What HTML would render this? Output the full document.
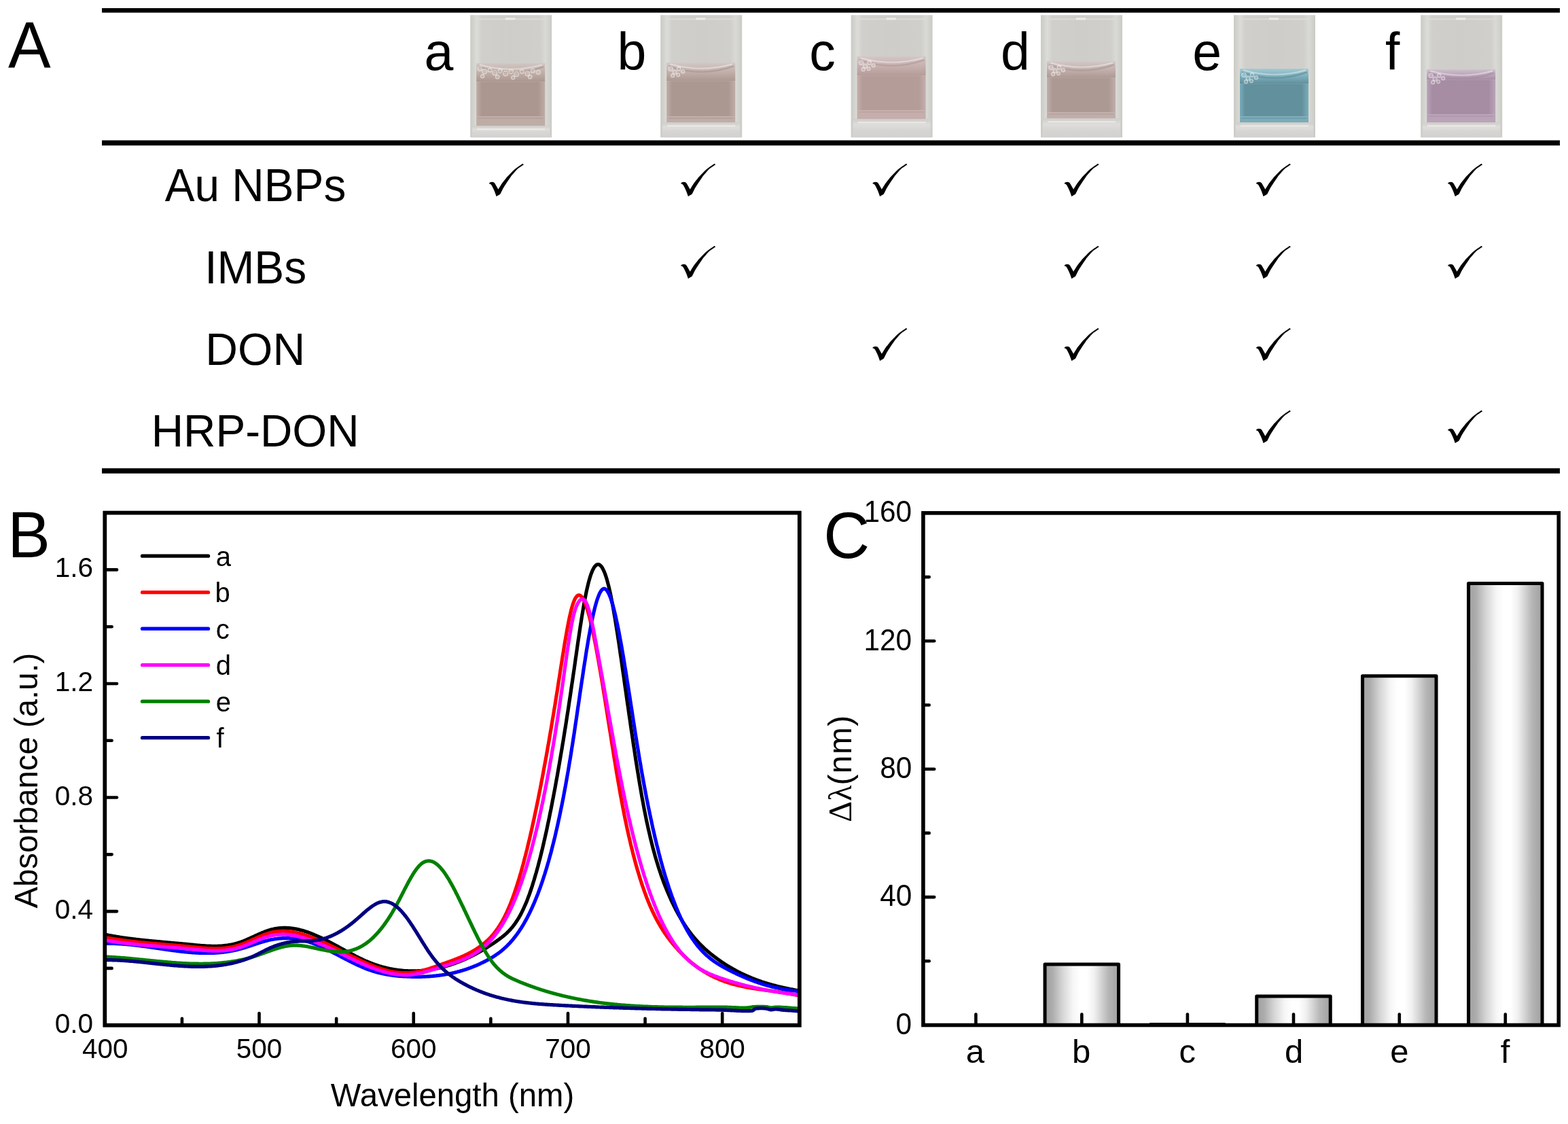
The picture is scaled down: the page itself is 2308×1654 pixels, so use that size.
<!DOCTYPE html>
<html><head><meta charset="utf-8"><title>Figure</title>
<style>html,body{margin:0;padding:0;background:#fff;overflow:hidden;}svg{display:block;}</style></head>
<body>
<svg width="2308" height="1654" viewBox="0 0 2308 1654"><defs><linearGradient id="glass" x1="0" y1="0" x2="1" y2="0">
<stop offset="0" stop-color="#cbcbc6"/><stop offset="0.04" stop-color="#d2d2ce"/><stop offset="0.08" stop-color="#dcdcd8"/><stop offset="0.14" stop-color="#d0cfcb"/><stop offset="0.5" stop-color="#cfcdc9"/><stop offset="0.86" stop-color="#d0cfcb"/><stop offset="0.92" stop-color="#d9d9d5"/><stop offset="0.97" stop-color="#d0d0cc"/><stop offset="1" stop-color="#cbcbc6"/></linearGradient><linearGradient id="basegr" x1="0" y1="0" x2="0" y2="1">
<stop offset="0" stop-color="#cfcdca"/><stop offset="0.3" stop-color="#dedddb"/><stop offset="0.6" stop-color="#d6d5d3"/><stop offset="1" stop-color="#d2d1cf"/></linearGradient><linearGradient id="lq0" x1="0" y1="0" x2="1" y2="0">
<stop offset="0" stop-color="#bfaca6"/><stop offset="0.08" stop-color="#ab978f"/><stop offset="0.9" stop-color="#ab978f"/><stop offset="1" stop-color="#bfaca6"/></linearGradient><linearGradient id="mn0" x1="0" y1="0" x2="0" y2="1">
<stop offset="0" stop-color="#d0c6c2"/><stop offset="0.55" stop-color="#bfaca6"/><stop offset="1" stop-color="#ab978f"/></linearGradient><linearGradient id="lq1" x1="0" y1="0" x2="1" y2="0">
<stop offset="0" stop-color="#c0ada8"/><stop offset="0.08" stop-color="#ab9891"/><stop offset="0.9" stop-color="#ab9891"/><stop offset="1" stop-color="#c0ada8"/></linearGradient><linearGradient id="mn1" x1="0" y1="0" x2="0" y2="1">
<stop offset="0" stop-color="#d2c8c5"/><stop offset="0.55" stop-color="#c0ada8"/><stop offset="1" stop-color="#ab9891"/></linearGradient><linearGradient id="lq2" x1="0" y1="0" x2="1" y2="0">
<stop offset="0" stop-color="#c5aeac"/><stop offset="0.08" stop-color="#b49c99"/><stop offset="0.9" stop-color="#b49c99"/><stop offset="1" stop-color="#c5aeac"/></linearGradient><linearGradient id="mn2" x1="0" y1="0" x2="0" y2="1">
<stop offset="0" stop-color="#d3c6c5"/><stop offset="0.55" stop-color="#c5aeac"/><stop offset="1" stop-color="#b49c99"/></linearGradient><linearGradient id="lq3" x1="0" y1="0" x2="1" y2="0">
<stop offset="0" stop-color="#c1aeab"/><stop offset="0.08" stop-color="#ad9994"/><stop offset="0.9" stop-color="#ad9994"/><stop offset="1" stop-color="#c1aeab"/></linearGradient><linearGradient id="mn3" x1="0" y1="0" x2="0" y2="1">
<stop offset="0" stop-color="#d2c8c6"/><stop offset="0.55" stop-color="#c1aeab"/><stop offset="1" stop-color="#ad9994"/></linearGradient><linearGradient id="lq4" x1="0" y1="0" x2="1" y2="0">
<stop offset="0" stop-color="#7aacba"/><stop offset="0.08" stop-color="#62909c"/><stop offset="0.9" stop-color="#62909c"/><stop offset="1" stop-color="#7aacba"/></linearGradient><linearGradient id="mn4" x1="0" y1="0" x2="0" y2="1">
<stop offset="0" stop-color="#a2cad4"/><stop offset="0.55" stop-color="#7aacba"/><stop offset="1" stop-color="#62909c"/></linearGradient><linearGradient id="lq5" x1="0" y1="0" x2="1" y2="0">
<stop offset="0" stop-color="#baa3b8"/><stop offset="0.08" stop-color="#a68da3"/><stop offset="0.9" stop-color="#a68da3"/><stop offset="1" stop-color="#baa3b8"/></linearGradient><linearGradient id="mn5" x1="0" y1="0" x2="0" y2="1">
<stop offset="0" stop-color="#cdc0cc"/><stop offset="0.55" stop-color="#baa3b8"/><stop offset="1" stop-color="#a68da3"/></linearGradient><linearGradient id="bar" x1="0" y1="0" x2="1" y2="0">
<stop offset="0" stop-color="#a0a0a0"/><stop offset="0.10" stop-color="#acacac"/><stop offset="0.24" stop-color="#d6d6d6"/><stop offset="0.38" stop-color="#f6f6f6"/><stop offset="0.48" stop-color="#ffffff"/><stop offset="0.57" stop-color="#ffffff"/><stop offset="0.67" stop-color="#f0f0f0"/><stop offset="0.75" stop-color="#d8d8d8"/><stop offset="0.86" stop-color="#b6b6b6"/><stop offset="1" stop-color="#a0a0a0"/></linearGradient></defs><rect width="2308" height="1654" fill="#fff"/><rect x="150" y="12.00" width="2146" height="6.6" fill="#000"/>
<rect x="150" y="206.50" width="2146" height="7.6" fill="#000"/>
<rect x="150" y="689.10" width="2146" height="7.6" fill="#000"/>
<text transform="translate(12.00,98.90) scale(1,1.0300)" font-family="Liberation Sans" font-size="94.00" >A</text>
<text transform="translate(242.70,295.90) scale(1,1.0300)" font-family="Liberation Sans" font-size="65.70" >Au NBPs</text>
<text transform="translate(301.17,417.10) scale(1,1.0300)" font-family="Liberation Sans" font-size="65.90" >IMBs</text>
<text transform="translate(302.31,536.70) scale(1,1.0100)" font-family="Liberation Sans" font-size="66.10" >DON</text>
<text transform="translate(222.65,656.80) scale(1,1.0200)" font-family="Liberation Sans" font-size="65.60" >HRP-DON</text>
<text x="624.40" y="102.60" font-family="Liberation Sans" font-size="77.00" >a</text>
<text x="908.57" y="102.60" font-family="Liberation Sans" font-size="77.00" >b</text>
<text x="1191.37" y="102.60" font-family="Liberation Sans" font-size="77.00" >c</text>
<text x="1473.00" y="102.60" font-family="Liberation Sans" font-size="77.00" >d</text>
<text x="1755.33" y="102.60" font-family="Liberation Sans" font-size="77.00" >e</text>
<text x="2039.03" y="102.60" font-family="Liberation Sans" font-size="77.00" >f</text>
<g transform="translate(692.2,22.2)">
<rect x="0" y="0" width="120" height="180" fill="url(#glass)"/>
<rect x="10" y="5" width="100" height="2" fill="#dcdcd8" opacity="0.9"/>
<rect x="52" y="4" width="14" height="3" fill="#ecedea"/>
<rect x="9" y="71" width="101" height="27" fill="url(#mn0)"/>
<rect x="9" y="98" width="101" height="51" fill="url(#lq0)"/>
<rect x="9" y="149" width="101" height="14" fill="#bfaca6"/>
<rect x="12" y="151" width="95" height="1.5" fill="#ab978f" opacity="0.6"/>
<path d="M12,76 Q60,93 108,76" fill="none" stroke="#ab978f" stroke-width="2.5" opacity="0.7"/>
<path d="M14,73 Q60,86 106,73" fill="none" stroke="#ffffff" stroke-width="2" opacity="0.4"/>
<circle cx="14" cy="79" r="3.2" fill="#ffffff" fill-opacity="0.18" stroke="#ffffff" stroke-width="1.1" stroke-opacity="0.5"/>
<circle cx="21" cy="83" r="3.6" fill="#ffffff" fill-opacity="0.18" stroke="#ffffff" stroke-width="1.1" stroke-opacity="0.5"/>
<circle cx="29" cy="81" r="3.0" fill="#ffffff" fill-opacity="0.18" stroke="#ffffff" stroke-width="1.1" stroke-opacity="0.5"/>
<circle cx="36" cy="85" r="3.4" fill="#ffffff" fill-opacity="0.18" stroke="#ffffff" stroke-width="1.1" stroke-opacity="0.5"/>
<circle cx="44" cy="82" r="3.0" fill="#ffffff" fill-opacity="0.18" stroke="#ffffff" stroke-width="1.1" stroke-opacity="0.5"/>
<circle cx="52" cy="86" r="3.6" fill="#ffffff" fill-opacity="0.18" stroke="#ffffff" stroke-width="1.1" stroke-opacity="0.5"/>
<circle cx="60" cy="83" r="3.2" fill="#ffffff" fill-opacity="0.18" stroke="#ffffff" stroke-width="1.1" stroke-opacity="0.5"/>
<circle cx="68" cy="87" r="3.4" fill="#ffffff" fill-opacity="0.18" stroke="#ffffff" stroke-width="1.1" stroke-opacity="0.5"/>
<circle cx="76" cy="83" r="3.0" fill="#ffffff" fill-opacity="0.18" stroke="#ffffff" stroke-width="1.1" stroke-opacity="0.5"/>
<circle cx="84" cy="86" r="3.4" fill="#ffffff" fill-opacity="0.18" stroke="#ffffff" stroke-width="1.1" stroke-opacity="0.5"/>
<circle cx="92" cy="82" r="3.0" fill="#ffffff" fill-opacity="0.18" stroke="#ffffff" stroke-width="1.1" stroke-opacity="0.5"/>
<circle cx="100" cy="84" r="3.2" fill="#ffffff" fill-opacity="0.18" stroke="#ffffff" stroke-width="1.1" stroke-opacity="0.5"/>
<circle cx="18" cy="90" r="2.6" fill="#ffffff" fill-opacity="0.18" stroke="#ffffff" stroke-width="1.1" stroke-opacity="0.5"/>
<circle cx="40" cy="91" r="2.8" fill="#ffffff" fill-opacity="0.18" stroke="#ffffff" stroke-width="1.1" stroke-opacity="0.5"/>
<circle cx="63" cy="92" r="2.6" fill="#ffffff" fill-opacity="0.18" stroke="#ffffff" stroke-width="1.1" stroke-opacity="0.5"/>
<circle cx="88" cy="91" r="2.8" fill="#ffffff" fill-opacity="0.18" stroke="#ffffff" stroke-width="1.1" stroke-opacity="0.5"/>
<rect x="3" y="163" width="114" height="17" fill="url(#basegr)"/>
<rect x="10" y="167" width="100" height="2" fill="#ecebe9" opacity="0.9"/>
</g>
<g transform="translate(972.2,22.2)">
<rect x="0" y="0" width="120" height="180" fill="url(#glass)"/>
<rect x="10" y="5" width="100" height="2" fill="#dcdcd8" opacity="0.9"/>
<rect x="52" y="4" width="14" height="3" fill="#ecedea"/>
<rect x="9" y="70" width="101" height="27" fill="url(#mn1)"/>
<rect x="9" y="97" width="101" height="52" fill="url(#lq1)"/>
<rect x="9" y="149" width="101" height="9" fill="#c0ada8"/>
<rect x="12" y="151" width="95" height="1.5" fill="#ab9891" opacity="0.6"/>
<path d="M12,75 Q60,92 108,75" fill="none" stroke="#ab9891" stroke-width="2.5" opacity="0.7"/>
<path d="M14,72 Q60,85 106,72" fill="none" stroke="#ffffff" stroke-width="2" opacity="0.4"/>
<circle cx="15" cy="79" r="3.2" fill="#ffffff" fill-opacity="0.18" stroke="#ffffff" stroke-width="1.1" stroke-opacity="0.5"/>
<circle cx="21" cy="84" r="3.0" fill="#ffffff" fill-opacity="0.18" stroke="#ffffff" stroke-width="1.1" stroke-opacity="0.5"/>
<circle cx="27" cy="79" r="2.8" fill="#ffffff" fill-opacity="0.18" stroke="#ffffff" stroke-width="1.1" stroke-opacity="0.5"/>
<circle cx="18" cy="89" r="2.6" fill="#ffffff" fill-opacity="0.18" stroke="#ffffff" stroke-width="1.1" stroke-opacity="0.5"/>
<circle cx="26" cy="88" r="2.4" fill="#ffffff" fill-opacity="0.18" stroke="#ffffff" stroke-width="1.1" stroke-opacity="0.5"/>
<circle cx="33" cy="83" r="2.6" fill="#ffffff" fill-opacity="0.18" stroke="#ffffff" stroke-width="1.1" stroke-opacity="0.5"/>
<rect x="3" y="158" width="114" height="22" fill="url(#basegr)"/>
<rect x="10" y="162" width="100" height="2" fill="#ecebe9" opacity="0.9"/>
</g>
<g transform="translate(1252.6,22.2)">
<rect x="0" y="0" width="120" height="180" fill="url(#glass)"/>
<rect x="10" y="5" width="100" height="2" fill="#dcdcd8" opacity="0.9"/>
<rect x="52" y="4" width="14" height="3" fill="#ecedea"/>
<rect x="9" y="61" width="101" height="28" fill="url(#mn2)"/>
<rect x="9" y="89" width="101" height="51" fill="url(#lq2)"/>
<rect x="9" y="140" width="101" height="13" fill="#c5aeac"/>
<rect x="12" y="142" width="95" height="1.5" fill="#b49c99" opacity="0.6"/>
<path d="M12,66 Q60,83 108,66" fill="none" stroke="#b49c99" stroke-width="2.5" opacity="0.7"/>
<path d="M14,63 Q60,76 106,63" fill="none" stroke="#ffffff" stroke-width="2" opacity="0.4"/>
<circle cx="15" cy="70" r="3.2" fill="#ffffff" fill-opacity="0.18" stroke="#ffffff" stroke-width="1.1" stroke-opacity="0.5"/>
<circle cx="21" cy="75" r="3.0" fill="#ffffff" fill-opacity="0.18" stroke="#ffffff" stroke-width="1.1" stroke-opacity="0.5"/>
<circle cx="27" cy="70" r="2.8" fill="#ffffff" fill-opacity="0.18" stroke="#ffffff" stroke-width="1.1" stroke-opacity="0.5"/>
<circle cx="18" cy="80" r="2.6" fill="#ffffff" fill-opacity="0.18" stroke="#ffffff" stroke-width="1.1" stroke-opacity="0.5"/>
<circle cx="26" cy="79" r="2.4" fill="#ffffff" fill-opacity="0.18" stroke="#ffffff" stroke-width="1.1" stroke-opacity="0.5"/>
<circle cx="33" cy="74" r="2.6" fill="#ffffff" fill-opacity="0.18" stroke="#ffffff" stroke-width="1.1" stroke-opacity="0.5"/>
<rect x="3" y="153" width="114" height="27" fill="url(#basegr)"/>
<rect x="10" y="157" width="100" height="2" fill="#ecebe9" opacity="0.9"/>
</g>
<g transform="translate(1532.0,22.2)">
<rect x="0" y="0" width="120" height="180" fill="url(#glass)"/>
<rect x="10" y="5" width="100" height="2" fill="#dcdcd8" opacity="0.9"/>
<rect x="52" y="4" width="14" height="3" fill="#ecedea"/>
<rect x="9" y="68" width="101" height="24" fill="url(#mn3)"/>
<rect x="9" y="92" width="101" height="51" fill="url(#lq3)"/>
<rect x="9" y="143" width="101" height="9" fill="#c1aeab"/>
<rect x="12" y="145" width="95" height="1.5" fill="#ad9994" opacity="0.6"/>
<path d="M12,73 Q60,90 108,73" fill="none" stroke="#ad9994" stroke-width="2.5" opacity="0.7"/>
<path d="M14,70 Q60,83 106,70" fill="none" stroke="#ffffff" stroke-width="2" opacity="0.4"/>
<circle cx="15" cy="77" r="3.2" fill="#ffffff" fill-opacity="0.18" stroke="#ffffff" stroke-width="1.1" stroke-opacity="0.5"/>
<circle cx="21" cy="82" r="3.0" fill="#ffffff" fill-opacity="0.18" stroke="#ffffff" stroke-width="1.1" stroke-opacity="0.5"/>
<circle cx="27" cy="77" r="2.8" fill="#ffffff" fill-opacity="0.18" stroke="#ffffff" stroke-width="1.1" stroke-opacity="0.5"/>
<circle cx="18" cy="87" r="2.6" fill="#ffffff" fill-opacity="0.18" stroke="#ffffff" stroke-width="1.1" stroke-opacity="0.5"/>
<circle cx="26" cy="86" r="2.4" fill="#ffffff" fill-opacity="0.18" stroke="#ffffff" stroke-width="1.1" stroke-opacity="0.5"/>
<circle cx="33" cy="81" r="2.6" fill="#ffffff" fill-opacity="0.18" stroke="#ffffff" stroke-width="1.1" stroke-opacity="0.5"/>
<rect x="3" y="152" width="114" height="28" fill="url(#basegr)"/>
<rect x="10" y="156" width="100" height="2" fill="#ecebe9" opacity="0.9"/>
</g>
<g transform="translate(1816.0,22.2)">
<rect x="0" y="0" width="120" height="180" fill="url(#glass)"/>
<rect x="10" y="5" width="100" height="2" fill="#dcdcd8" opacity="0.9"/>
<rect x="52" y="4" width="14" height="3" fill="#ecedea"/>
<rect x="9" y="79" width="101" height="22" fill="url(#mn4)"/>
<rect x="9" y="101" width="101" height="48" fill="url(#lq4)"/>
<rect x="9" y="149" width="101" height="9" fill="#7aacba"/>
<rect x="12" y="151" width="95" height="1.5" fill="#62909c" opacity="0.6"/>
<path d="M12,84 Q60,101 108,84" fill="none" stroke="#62909c" stroke-width="2.5" opacity="0.7"/>
<path d="M14,81 Q60,94 106,81" fill="none" stroke="#ffffff" stroke-width="2" opacity="0.4"/>
<circle cx="15" cy="88" r="3.2" fill="#ffffff" fill-opacity="0.18" stroke="#ffffff" stroke-width="1.1" stroke-opacity="0.5"/>
<circle cx="21" cy="93" r="3.0" fill="#ffffff" fill-opacity="0.18" stroke="#ffffff" stroke-width="1.1" stroke-opacity="0.5"/>
<circle cx="27" cy="88" r="2.8" fill="#ffffff" fill-opacity="0.18" stroke="#ffffff" stroke-width="1.1" stroke-opacity="0.5"/>
<circle cx="18" cy="98" r="2.6" fill="#ffffff" fill-opacity="0.18" stroke="#ffffff" stroke-width="1.1" stroke-opacity="0.5"/>
<circle cx="26" cy="97" r="2.4" fill="#ffffff" fill-opacity="0.18" stroke="#ffffff" stroke-width="1.1" stroke-opacity="0.5"/>
<circle cx="33" cy="92" r="2.6" fill="#ffffff" fill-opacity="0.18" stroke="#ffffff" stroke-width="1.1" stroke-opacity="0.5"/>
<rect x="3" y="158" width="114" height="22" fill="url(#basegr)"/>
<rect x="10" y="162" width="100" height="2" fill="#ecebe9" opacity="0.9"/>
</g>
<g transform="translate(2091.2,22.2)">
<rect x="0" y="0" width="120" height="180" fill="url(#glass)"/>
<rect x="10" y="5" width="100" height="2" fill="#dcdcd8" opacity="0.9"/>
<rect x="52" y="4" width="14" height="3" fill="#ecedea"/>
<rect x="9" y="80" width="101" height="15" fill="url(#mn5)"/>
<rect x="9" y="95" width="101" height="51" fill="url(#lq5)"/>
<rect x="9" y="146" width="101" height="12" fill="#baa3b8"/>
<rect x="12" y="148" width="95" height="1.5" fill="#a68da3" opacity="0.6"/>
<path d="M12,85 Q60,102 108,85" fill="none" stroke="#a68da3" stroke-width="2.5" opacity="0.7"/>
<path d="M14,82 Q60,95 106,82" fill="none" stroke="#ffffff" stroke-width="2" opacity="0.4"/>
<circle cx="15" cy="89" r="3.2" fill="#ffffff" fill-opacity="0.18" stroke="#ffffff" stroke-width="1.1" stroke-opacity="0.5"/>
<circle cx="21" cy="94" r="3.0" fill="#ffffff" fill-opacity="0.18" stroke="#ffffff" stroke-width="1.1" stroke-opacity="0.5"/>
<circle cx="27" cy="89" r="2.8" fill="#ffffff" fill-opacity="0.18" stroke="#ffffff" stroke-width="1.1" stroke-opacity="0.5"/>
<circle cx="18" cy="99" r="2.6" fill="#ffffff" fill-opacity="0.18" stroke="#ffffff" stroke-width="1.1" stroke-opacity="0.5"/>
<circle cx="26" cy="98" r="2.4" fill="#ffffff" fill-opacity="0.18" stroke="#ffffff" stroke-width="1.1" stroke-opacity="0.5"/>
<circle cx="33" cy="93" r="2.6" fill="#ffffff" fill-opacity="0.18" stroke="#ffffff" stroke-width="1.1" stroke-opacity="0.5"/>
<rect x="3" y="158" width="114" height="22" fill="url(#basegr)"/>
<rect x="10" y="162" width="100" height="2" fill="#ecebe9" opacity="0.9"/>
</g>
<path transform="translate(719.6,240.8)" d="M13.79,37.89 C14.69,36.45 17.56,31.64 19.18,29.27 C20.80,26.90 22.19,25.32 23.48,23.67 C24.77,22.02 25.49,20.94 26.93,19.36 C28.37,17.78 30.38,15.91 32.10,14.19 C33.82,12.47 35.48,10.60 37.27,9.02 C39.07,7.44 41.15,5.97 42.87,4.71 C44.59,3.45 46.46,2.27 47.61,1.48 C48.76,0.69 49.41,0.22 49.77,-0.03 L51.27,1.48 C50.66,1.88 49.01,2.88 47.61,3.85 C46.21,4.82 44.74,5.58 42.87,7.30 C41.00,9.02 38.20,12.18 36.41,14.19 C34.61,16.20 33.90,16.92 32.10,19.36 C30.31,21.80 27.44,26.11 25.64,28.84 C23.84,31.57 22.70,33.29 21.33,35.73 C19.96,38.17 18.31,41.91 17.45,43.49 C16.59,45.07 17.24,44.42 16.16,45.21 C15.08,46.00 11.85,47.73 10.99,48.23 C10.56,47.01 9.33,43.20 8.40,40.90 C7.47,38.60 6.32,36.16 5.39,34.44 C4.46,32.72 3.70,31.42 2.80,30.56 C1.90,29.70 0.47,29.48 0.00,29.27 C0.32,28.98 1.19,27.95 1.94,27.55 C2.69,27.16 3.67,26.90 4.53,26.90 C5.39,26.90 6.39,27.16 7.11,27.55 C7.83,27.95 8.27,28.48 8.84,29.27 C9.41,30.06 9.99,31.28 10.56,32.28 C11.13,33.29 11.74,34.36 12.28,35.30 C12.82,36.23 13.54,37.46 13.79,37.89 Z" fill="#000"/>
<path transform="translate(1001.9,240.8)" d="M13.79,37.89 C14.69,36.45 17.56,31.64 19.18,29.27 C20.80,26.90 22.19,25.32 23.48,23.67 C24.77,22.02 25.49,20.94 26.93,19.36 C28.37,17.78 30.38,15.91 32.10,14.19 C33.82,12.47 35.48,10.60 37.27,9.02 C39.07,7.44 41.15,5.97 42.87,4.71 C44.59,3.45 46.46,2.27 47.61,1.48 C48.76,0.69 49.41,0.22 49.77,-0.03 L51.27,1.48 C50.66,1.88 49.01,2.88 47.61,3.85 C46.21,4.82 44.74,5.58 42.87,7.30 C41.00,9.02 38.20,12.18 36.41,14.19 C34.61,16.20 33.90,16.92 32.10,19.36 C30.31,21.80 27.44,26.11 25.64,28.84 C23.84,31.57 22.70,33.29 21.33,35.73 C19.96,38.17 18.31,41.91 17.45,43.49 C16.59,45.07 17.24,44.42 16.16,45.21 C15.08,46.00 11.85,47.73 10.99,48.23 C10.56,47.01 9.33,43.20 8.40,40.90 C7.47,38.60 6.32,36.16 5.39,34.44 C4.46,32.72 3.70,31.42 2.80,30.56 C1.90,29.70 0.47,29.48 0.00,29.27 C0.32,28.98 1.19,27.95 1.94,27.55 C2.69,27.16 3.67,26.90 4.53,26.90 C5.39,26.90 6.39,27.16 7.11,27.55 C7.83,27.95 8.27,28.48 8.84,29.27 C9.41,30.06 9.99,31.28 10.56,32.28 C11.13,33.29 11.74,34.36 12.28,35.30 C12.82,36.23 13.54,37.46 13.79,37.89 Z" fill="#000"/>
<path transform="translate(1284.1,240.8)" d="M13.79,37.89 C14.69,36.45 17.56,31.64 19.18,29.27 C20.80,26.90 22.19,25.32 23.48,23.67 C24.77,22.02 25.49,20.94 26.93,19.36 C28.37,17.78 30.38,15.91 32.10,14.19 C33.82,12.47 35.48,10.60 37.27,9.02 C39.07,7.44 41.15,5.97 42.87,4.71 C44.59,3.45 46.46,2.27 47.61,1.48 C48.76,0.69 49.41,0.22 49.77,-0.03 L51.27,1.48 C50.66,1.88 49.01,2.88 47.61,3.85 C46.21,4.82 44.74,5.58 42.87,7.30 C41.00,9.02 38.20,12.18 36.41,14.19 C34.61,16.20 33.90,16.92 32.10,19.36 C30.31,21.80 27.44,26.11 25.64,28.84 C23.84,31.57 22.70,33.29 21.33,35.73 C19.96,38.17 18.31,41.91 17.45,43.49 C16.59,45.07 17.24,44.42 16.16,45.21 C15.08,46.00 11.85,47.73 10.99,48.23 C10.56,47.01 9.33,43.20 8.40,40.90 C7.47,38.60 6.32,36.16 5.39,34.44 C4.46,32.72 3.70,31.42 2.80,30.56 C1.90,29.70 0.47,29.48 0.00,29.27 C0.32,28.98 1.19,27.95 1.94,27.55 C2.69,27.16 3.67,26.90 4.53,26.90 C5.39,26.90 6.39,27.16 7.11,27.55 C7.83,27.95 8.27,28.48 8.84,29.27 C9.41,30.06 9.99,31.28 10.56,32.28 C11.13,33.29 11.74,34.36 12.28,35.30 C12.82,36.23 13.54,37.46 13.79,37.89 Z" fill="#000"/>
<path transform="translate(1566.3,240.8)" d="M13.79,37.89 C14.69,36.45 17.56,31.64 19.18,29.27 C20.80,26.90 22.19,25.32 23.48,23.67 C24.77,22.02 25.49,20.94 26.93,19.36 C28.37,17.78 30.38,15.91 32.10,14.19 C33.82,12.47 35.48,10.60 37.27,9.02 C39.07,7.44 41.15,5.97 42.87,4.71 C44.59,3.45 46.46,2.27 47.61,1.48 C48.76,0.69 49.41,0.22 49.77,-0.03 L51.27,1.48 C50.66,1.88 49.01,2.88 47.61,3.85 C46.21,4.82 44.74,5.58 42.87,7.30 C41.00,9.02 38.20,12.18 36.41,14.19 C34.61,16.20 33.90,16.92 32.10,19.36 C30.31,21.80 27.44,26.11 25.64,28.84 C23.84,31.57 22.70,33.29 21.33,35.73 C19.96,38.17 18.31,41.91 17.45,43.49 C16.59,45.07 17.24,44.42 16.16,45.21 C15.08,46.00 11.85,47.73 10.99,48.23 C10.56,47.01 9.33,43.20 8.40,40.90 C7.47,38.60 6.32,36.16 5.39,34.44 C4.46,32.72 3.70,31.42 2.80,30.56 C1.90,29.70 0.47,29.48 0.00,29.27 C0.32,28.98 1.19,27.95 1.94,27.55 C2.69,27.16 3.67,26.90 4.53,26.90 C5.39,26.90 6.39,27.16 7.11,27.55 C7.83,27.95 8.27,28.48 8.84,29.27 C9.41,30.06 9.99,31.28 10.56,32.28 C11.13,33.29 11.74,34.36 12.28,35.30 C12.82,36.23 13.54,37.46 13.79,37.89 Z" fill="#000"/>
<path transform="translate(1848.6,240.8)" d="M13.79,37.89 C14.69,36.45 17.56,31.64 19.18,29.27 C20.80,26.90 22.19,25.32 23.48,23.67 C24.77,22.02 25.49,20.94 26.93,19.36 C28.37,17.78 30.38,15.91 32.10,14.19 C33.82,12.47 35.48,10.60 37.27,9.02 C39.07,7.44 41.15,5.97 42.87,4.71 C44.59,3.45 46.46,2.27 47.61,1.48 C48.76,0.69 49.41,0.22 49.77,-0.03 L51.27,1.48 C50.66,1.88 49.01,2.88 47.61,3.85 C46.21,4.82 44.74,5.58 42.87,7.30 C41.00,9.02 38.20,12.18 36.41,14.19 C34.61,16.20 33.90,16.92 32.10,19.36 C30.31,21.80 27.44,26.11 25.64,28.84 C23.84,31.57 22.70,33.29 21.33,35.73 C19.96,38.17 18.31,41.91 17.45,43.49 C16.59,45.07 17.24,44.42 16.16,45.21 C15.08,46.00 11.85,47.73 10.99,48.23 C10.56,47.01 9.33,43.20 8.40,40.90 C7.47,38.60 6.32,36.16 5.39,34.44 C4.46,32.72 3.70,31.42 2.80,30.56 C1.90,29.70 0.47,29.48 0.00,29.27 C0.32,28.98 1.19,27.95 1.94,27.55 C2.69,27.16 3.67,26.90 4.53,26.90 C5.39,26.90 6.39,27.16 7.11,27.55 C7.83,27.95 8.27,28.48 8.84,29.27 C9.41,30.06 9.99,31.28 10.56,32.28 C11.13,33.29 11.74,34.36 12.28,35.30 C12.82,36.23 13.54,37.46 13.79,37.89 Z" fill="#000"/>
<path transform="translate(2130.8,240.8)" d="M13.79,37.89 C14.69,36.45 17.56,31.64 19.18,29.27 C20.80,26.90 22.19,25.32 23.48,23.67 C24.77,22.02 25.49,20.94 26.93,19.36 C28.37,17.78 30.38,15.91 32.10,14.19 C33.82,12.47 35.48,10.60 37.27,9.02 C39.07,7.44 41.15,5.97 42.87,4.71 C44.59,3.45 46.46,2.27 47.61,1.48 C48.76,0.69 49.41,0.22 49.77,-0.03 L51.27,1.48 C50.66,1.88 49.01,2.88 47.61,3.85 C46.21,4.82 44.74,5.58 42.87,7.30 C41.00,9.02 38.20,12.18 36.41,14.19 C34.61,16.20 33.90,16.92 32.10,19.36 C30.31,21.80 27.44,26.11 25.64,28.84 C23.84,31.57 22.70,33.29 21.33,35.73 C19.96,38.17 18.31,41.91 17.45,43.49 C16.59,45.07 17.24,44.42 16.16,45.21 C15.08,46.00 11.85,47.73 10.99,48.23 C10.56,47.01 9.33,43.20 8.40,40.90 C7.47,38.60 6.32,36.16 5.39,34.44 C4.46,32.72 3.70,31.42 2.80,30.56 C1.90,29.70 0.47,29.48 0.00,29.27 C0.32,28.98 1.19,27.95 1.94,27.55 C2.69,27.16 3.67,26.90 4.53,26.90 C5.39,26.90 6.39,27.16 7.11,27.55 C7.83,27.95 8.27,28.48 8.84,29.27 C9.41,30.06 9.99,31.28 10.56,32.28 C11.13,33.29 11.74,34.36 12.28,35.30 C12.82,36.23 13.54,37.46 13.79,37.89 Z" fill="#000"/>
<path transform="translate(1001.9,361.8)" d="M13.79,37.89 C14.69,36.45 17.56,31.64 19.18,29.27 C20.80,26.90 22.19,25.32 23.48,23.67 C24.77,22.02 25.49,20.94 26.93,19.36 C28.37,17.78 30.38,15.91 32.10,14.19 C33.82,12.47 35.48,10.60 37.27,9.02 C39.07,7.44 41.15,5.97 42.87,4.71 C44.59,3.45 46.46,2.27 47.61,1.48 C48.76,0.69 49.41,0.22 49.77,-0.03 L51.27,1.48 C50.66,1.88 49.01,2.88 47.61,3.85 C46.21,4.82 44.74,5.58 42.87,7.30 C41.00,9.02 38.20,12.18 36.41,14.19 C34.61,16.20 33.90,16.92 32.10,19.36 C30.31,21.80 27.44,26.11 25.64,28.84 C23.84,31.57 22.70,33.29 21.33,35.73 C19.96,38.17 18.31,41.91 17.45,43.49 C16.59,45.07 17.24,44.42 16.16,45.21 C15.08,46.00 11.85,47.73 10.99,48.23 C10.56,47.01 9.33,43.20 8.40,40.90 C7.47,38.60 6.32,36.16 5.39,34.44 C4.46,32.72 3.70,31.42 2.80,30.56 C1.90,29.70 0.47,29.48 0.00,29.27 C0.32,28.98 1.19,27.95 1.94,27.55 C2.69,27.16 3.67,26.90 4.53,26.90 C5.39,26.90 6.39,27.16 7.11,27.55 C7.83,27.95 8.27,28.48 8.84,29.27 C9.41,30.06 9.99,31.28 10.56,32.28 C11.13,33.29 11.74,34.36 12.28,35.30 C12.82,36.23 13.54,37.46 13.79,37.89 Z" fill="#000"/>
<path transform="translate(1566.3,361.8)" d="M13.79,37.89 C14.69,36.45 17.56,31.64 19.18,29.27 C20.80,26.90 22.19,25.32 23.48,23.67 C24.77,22.02 25.49,20.94 26.93,19.36 C28.37,17.78 30.38,15.91 32.10,14.19 C33.82,12.47 35.48,10.60 37.27,9.02 C39.07,7.44 41.15,5.97 42.87,4.71 C44.59,3.45 46.46,2.27 47.61,1.48 C48.76,0.69 49.41,0.22 49.77,-0.03 L51.27,1.48 C50.66,1.88 49.01,2.88 47.61,3.85 C46.21,4.82 44.74,5.58 42.87,7.30 C41.00,9.02 38.20,12.18 36.41,14.19 C34.61,16.20 33.90,16.92 32.10,19.36 C30.31,21.80 27.44,26.11 25.64,28.84 C23.84,31.57 22.70,33.29 21.33,35.73 C19.96,38.17 18.31,41.91 17.45,43.49 C16.59,45.07 17.24,44.42 16.16,45.21 C15.08,46.00 11.85,47.73 10.99,48.23 C10.56,47.01 9.33,43.20 8.40,40.90 C7.47,38.60 6.32,36.16 5.39,34.44 C4.46,32.72 3.70,31.42 2.80,30.56 C1.90,29.70 0.47,29.48 0.00,29.27 C0.32,28.98 1.19,27.95 1.94,27.55 C2.69,27.16 3.67,26.90 4.53,26.90 C5.39,26.90 6.39,27.16 7.11,27.55 C7.83,27.95 8.27,28.48 8.84,29.27 C9.41,30.06 9.99,31.28 10.56,32.28 C11.13,33.29 11.74,34.36 12.28,35.30 C12.82,36.23 13.54,37.46 13.79,37.89 Z" fill="#000"/>
<path transform="translate(1848.6,361.8)" d="M13.79,37.89 C14.69,36.45 17.56,31.64 19.18,29.27 C20.80,26.90 22.19,25.32 23.48,23.67 C24.77,22.02 25.49,20.94 26.93,19.36 C28.37,17.78 30.38,15.91 32.10,14.19 C33.82,12.47 35.48,10.60 37.27,9.02 C39.07,7.44 41.15,5.97 42.87,4.71 C44.59,3.45 46.46,2.27 47.61,1.48 C48.76,0.69 49.41,0.22 49.77,-0.03 L51.27,1.48 C50.66,1.88 49.01,2.88 47.61,3.85 C46.21,4.82 44.74,5.58 42.87,7.30 C41.00,9.02 38.20,12.18 36.41,14.19 C34.61,16.20 33.90,16.92 32.10,19.36 C30.31,21.80 27.44,26.11 25.64,28.84 C23.84,31.57 22.70,33.29 21.33,35.73 C19.96,38.17 18.31,41.91 17.45,43.49 C16.59,45.07 17.24,44.42 16.16,45.21 C15.08,46.00 11.85,47.73 10.99,48.23 C10.56,47.01 9.33,43.20 8.40,40.90 C7.47,38.60 6.32,36.16 5.39,34.44 C4.46,32.72 3.70,31.42 2.80,30.56 C1.90,29.70 0.47,29.48 0.00,29.27 C0.32,28.98 1.19,27.95 1.94,27.55 C2.69,27.16 3.67,26.90 4.53,26.90 C5.39,26.90 6.39,27.16 7.11,27.55 C7.83,27.95 8.27,28.48 8.84,29.27 C9.41,30.06 9.99,31.28 10.56,32.28 C11.13,33.29 11.74,34.36 12.28,35.30 C12.82,36.23 13.54,37.46 13.79,37.89 Z" fill="#000"/>
<path transform="translate(2130.8,361.8)" d="M13.79,37.89 C14.69,36.45 17.56,31.64 19.18,29.27 C20.80,26.90 22.19,25.32 23.48,23.67 C24.77,22.02 25.49,20.94 26.93,19.36 C28.37,17.78 30.38,15.91 32.10,14.19 C33.82,12.47 35.48,10.60 37.27,9.02 C39.07,7.44 41.15,5.97 42.87,4.71 C44.59,3.45 46.46,2.27 47.61,1.48 C48.76,0.69 49.41,0.22 49.77,-0.03 L51.27,1.48 C50.66,1.88 49.01,2.88 47.61,3.85 C46.21,4.82 44.74,5.58 42.87,7.30 C41.00,9.02 38.20,12.18 36.41,14.19 C34.61,16.20 33.90,16.92 32.10,19.36 C30.31,21.80 27.44,26.11 25.64,28.84 C23.84,31.57 22.70,33.29 21.33,35.73 C19.96,38.17 18.31,41.91 17.45,43.49 C16.59,45.07 17.24,44.42 16.16,45.21 C15.08,46.00 11.85,47.73 10.99,48.23 C10.56,47.01 9.33,43.20 8.40,40.90 C7.47,38.60 6.32,36.16 5.39,34.44 C4.46,32.72 3.70,31.42 2.80,30.56 C1.90,29.70 0.47,29.48 0.00,29.27 C0.32,28.98 1.19,27.95 1.94,27.55 C2.69,27.16 3.67,26.90 4.53,26.90 C5.39,26.90 6.39,27.16 7.11,27.55 C7.83,27.95 8.27,28.48 8.84,29.27 C9.41,30.06 9.99,31.28 10.56,32.28 C11.13,33.29 11.74,34.36 12.28,35.30 C12.82,36.23 13.54,37.46 13.79,37.89 Z" fill="#000"/>
<path transform="translate(1284.1,482.8)" d="M13.79,37.89 C14.69,36.45 17.56,31.64 19.18,29.27 C20.80,26.90 22.19,25.32 23.48,23.67 C24.77,22.02 25.49,20.94 26.93,19.36 C28.37,17.78 30.38,15.91 32.10,14.19 C33.82,12.47 35.48,10.60 37.27,9.02 C39.07,7.44 41.15,5.97 42.87,4.71 C44.59,3.45 46.46,2.27 47.61,1.48 C48.76,0.69 49.41,0.22 49.77,-0.03 L51.27,1.48 C50.66,1.88 49.01,2.88 47.61,3.85 C46.21,4.82 44.74,5.58 42.87,7.30 C41.00,9.02 38.20,12.18 36.41,14.19 C34.61,16.20 33.90,16.92 32.10,19.36 C30.31,21.80 27.44,26.11 25.64,28.84 C23.84,31.57 22.70,33.29 21.33,35.73 C19.96,38.17 18.31,41.91 17.45,43.49 C16.59,45.07 17.24,44.42 16.16,45.21 C15.08,46.00 11.85,47.73 10.99,48.23 C10.56,47.01 9.33,43.20 8.40,40.90 C7.47,38.60 6.32,36.16 5.39,34.44 C4.46,32.72 3.70,31.42 2.80,30.56 C1.90,29.70 0.47,29.48 0.00,29.27 C0.32,28.98 1.19,27.95 1.94,27.55 C2.69,27.16 3.67,26.90 4.53,26.90 C5.39,26.90 6.39,27.16 7.11,27.55 C7.83,27.95 8.27,28.48 8.84,29.27 C9.41,30.06 9.99,31.28 10.56,32.28 C11.13,33.29 11.74,34.36 12.28,35.30 C12.82,36.23 13.54,37.46 13.79,37.89 Z" fill="#000"/>
<path transform="translate(1566.3,482.8)" d="M13.79,37.89 C14.69,36.45 17.56,31.64 19.18,29.27 C20.80,26.90 22.19,25.32 23.48,23.67 C24.77,22.02 25.49,20.94 26.93,19.36 C28.37,17.78 30.38,15.91 32.10,14.19 C33.82,12.47 35.48,10.60 37.27,9.02 C39.07,7.44 41.15,5.97 42.87,4.71 C44.59,3.45 46.46,2.27 47.61,1.48 C48.76,0.69 49.41,0.22 49.77,-0.03 L51.27,1.48 C50.66,1.88 49.01,2.88 47.61,3.85 C46.21,4.82 44.74,5.58 42.87,7.30 C41.00,9.02 38.20,12.18 36.41,14.19 C34.61,16.20 33.90,16.92 32.10,19.36 C30.31,21.80 27.44,26.11 25.64,28.84 C23.84,31.57 22.70,33.29 21.33,35.73 C19.96,38.17 18.31,41.91 17.45,43.49 C16.59,45.07 17.24,44.42 16.16,45.21 C15.08,46.00 11.85,47.73 10.99,48.23 C10.56,47.01 9.33,43.20 8.40,40.90 C7.47,38.60 6.32,36.16 5.39,34.44 C4.46,32.72 3.70,31.42 2.80,30.56 C1.90,29.70 0.47,29.48 0.00,29.27 C0.32,28.98 1.19,27.95 1.94,27.55 C2.69,27.16 3.67,26.90 4.53,26.90 C5.39,26.90 6.39,27.16 7.11,27.55 C7.83,27.95 8.27,28.48 8.84,29.27 C9.41,30.06 9.99,31.28 10.56,32.28 C11.13,33.29 11.74,34.36 12.28,35.30 C12.82,36.23 13.54,37.46 13.79,37.89 Z" fill="#000"/>
<path transform="translate(1848.6,482.8)" d="M13.79,37.89 C14.69,36.45 17.56,31.64 19.18,29.27 C20.80,26.90 22.19,25.32 23.48,23.67 C24.77,22.02 25.49,20.94 26.93,19.36 C28.37,17.78 30.38,15.91 32.10,14.19 C33.82,12.47 35.48,10.60 37.27,9.02 C39.07,7.44 41.15,5.97 42.87,4.71 C44.59,3.45 46.46,2.27 47.61,1.48 C48.76,0.69 49.41,0.22 49.77,-0.03 L51.27,1.48 C50.66,1.88 49.01,2.88 47.61,3.85 C46.21,4.82 44.74,5.58 42.87,7.30 C41.00,9.02 38.20,12.18 36.41,14.19 C34.61,16.20 33.90,16.92 32.10,19.36 C30.31,21.80 27.44,26.11 25.64,28.84 C23.84,31.57 22.70,33.29 21.33,35.73 C19.96,38.17 18.31,41.91 17.45,43.49 C16.59,45.07 17.24,44.42 16.16,45.21 C15.08,46.00 11.85,47.73 10.99,48.23 C10.56,47.01 9.33,43.20 8.40,40.90 C7.47,38.60 6.32,36.16 5.39,34.44 C4.46,32.72 3.70,31.42 2.80,30.56 C1.90,29.70 0.47,29.48 0.00,29.27 C0.32,28.98 1.19,27.95 1.94,27.55 C2.69,27.16 3.67,26.90 4.53,26.90 C5.39,26.90 6.39,27.16 7.11,27.55 C7.83,27.95 8.27,28.48 8.84,29.27 C9.41,30.06 9.99,31.28 10.56,32.28 C11.13,33.29 11.74,34.36 12.28,35.30 C12.82,36.23 13.54,37.46 13.79,37.89 Z" fill="#000"/>
<path transform="translate(1848.6,603.8)" d="M13.79,37.89 C14.69,36.45 17.56,31.64 19.18,29.27 C20.80,26.90 22.19,25.32 23.48,23.67 C24.77,22.02 25.49,20.94 26.93,19.36 C28.37,17.78 30.38,15.91 32.10,14.19 C33.82,12.47 35.48,10.60 37.27,9.02 C39.07,7.44 41.15,5.97 42.87,4.71 C44.59,3.45 46.46,2.27 47.61,1.48 C48.76,0.69 49.41,0.22 49.77,-0.03 L51.27,1.48 C50.66,1.88 49.01,2.88 47.61,3.85 C46.21,4.82 44.74,5.58 42.87,7.30 C41.00,9.02 38.20,12.18 36.41,14.19 C34.61,16.20 33.90,16.92 32.10,19.36 C30.31,21.80 27.44,26.11 25.64,28.84 C23.84,31.57 22.70,33.29 21.33,35.73 C19.96,38.17 18.31,41.91 17.45,43.49 C16.59,45.07 17.24,44.42 16.16,45.21 C15.08,46.00 11.85,47.73 10.99,48.23 C10.56,47.01 9.33,43.20 8.40,40.90 C7.47,38.60 6.32,36.16 5.39,34.44 C4.46,32.72 3.70,31.42 2.80,30.56 C1.90,29.70 0.47,29.48 0.00,29.27 C0.32,28.98 1.19,27.95 1.94,27.55 C2.69,27.16 3.67,26.90 4.53,26.90 C5.39,26.90 6.39,27.16 7.11,27.55 C7.83,27.95 8.27,28.48 8.84,29.27 C9.41,30.06 9.99,31.28 10.56,32.28 C11.13,33.29 11.74,34.36 12.28,35.30 C12.82,36.23 13.54,37.46 13.79,37.89 Z" fill="#000"/>
<path transform="translate(2130.8,603.8)" d="M13.79,37.89 C14.69,36.45 17.56,31.64 19.18,29.27 C20.80,26.90 22.19,25.32 23.48,23.67 C24.77,22.02 25.49,20.94 26.93,19.36 C28.37,17.78 30.38,15.91 32.10,14.19 C33.82,12.47 35.48,10.60 37.27,9.02 C39.07,7.44 41.15,5.97 42.87,4.71 C44.59,3.45 46.46,2.27 47.61,1.48 C48.76,0.69 49.41,0.22 49.77,-0.03 L51.27,1.48 C50.66,1.88 49.01,2.88 47.61,3.85 C46.21,4.82 44.74,5.58 42.87,7.30 C41.00,9.02 38.20,12.18 36.41,14.19 C34.61,16.20 33.90,16.92 32.10,19.36 C30.31,21.80 27.44,26.11 25.64,28.84 C23.84,31.57 22.70,33.29 21.33,35.73 C19.96,38.17 18.31,41.91 17.45,43.49 C16.59,45.07 17.24,44.42 16.16,45.21 C15.08,46.00 11.85,47.73 10.99,48.23 C10.56,47.01 9.33,43.20 8.40,40.90 C7.47,38.60 6.32,36.16 5.39,34.44 C4.46,32.72 3.70,31.42 2.80,30.56 C1.90,29.70 0.47,29.48 0.00,29.27 C0.32,28.98 1.19,27.95 1.94,27.55 C2.69,27.16 3.67,26.90 4.53,26.90 C5.39,26.90 6.39,27.16 7.11,27.55 C7.83,27.95 8.27,28.48 8.84,29.27 C9.41,30.06 9.99,31.28 10.56,32.28 C11.13,33.29 11.74,34.36 12.28,35.30 C12.82,36.23 13.54,37.46 13.79,37.89 Z" fill="#000"/>
<text transform="translate(11.28,819.90) scale(1,1.0300)" font-family="Liberation Sans" font-size="94.00" >B</text>
<clipPath id="bclip"><rect x="154.3" y="754.6" width="1022.5" height="754.1"/></clipPath>
<g clip-path="url(#bclip)" fill="none" stroke-width="5.2" stroke-linejoin="round" stroke-linecap="round">
<path d="M154.3,1375.2 L155.4,1375.4 L156.6,1375.6 L157.7,1375.8 L158.8,1376.1 L160.0,1376.3 L161.1,1376.5 L162.3,1376.7 L163.4,1376.9 L164.5,1377.1 L165.7,1377.3 L166.8,1377.5 L167.9,1377.7 L169.1,1377.9 L170.2,1378.1 L171.3,1378.3 L172.5,1378.5 L173.6,1378.6 L174.8,1378.8 L175.9,1379.0 L177.0,1379.2 L178.2,1379.4 L179.3,1379.5 L180.4,1379.7 L181.6,1379.9 L182.7,1380.0 L183.8,1380.2 L185.0,1380.3 L186.1,1380.5 L187.2,1380.7 L188.4,1380.8 L189.5,1381.0 L190.7,1381.1 L191.8,1381.3 L192.9,1381.4 L194.1,1381.6 L195.2,1381.7 L196.3,1381.8 L197.5,1382.0 L198.6,1382.1 L199.7,1382.2 L200.9,1382.4 L202.0,1382.5 L203.2,1382.6 L204.3,1382.8 L205.4,1382.9 L206.6,1383.0 L207.7,1383.2 L208.8,1383.3 L210.0,1383.4 L211.1,1383.5 L212.2,1383.6 L213.4,1383.8 L214.5,1383.9 L215.7,1384.0 L216.8,1384.1 L217.9,1384.2 L219.1,1384.3 L220.2,1384.5 L221.3,1384.6 L222.5,1384.7 L223.6,1384.8 L224.7,1384.9 L225.9,1385.0 L227.0,1385.1 L228.1,1385.2 L229.3,1385.3 L230.4,1385.4 L231.6,1385.5 L232.7,1385.6 L233.8,1385.7 L235.0,1385.8 L236.1,1385.9 L237.2,1386.0 L238.4,1386.1 L239.5,1386.3 L240.6,1386.4 L241.8,1386.5 L242.9,1386.6 L244.1,1386.7 L245.2,1386.8 L246.3,1386.9 L247.5,1387.0 L248.6,1387.1 L249.7,1387.2 L250.9,1387.3 L252.0,1387.4 L253.1,1387.5 L254.3,1387.6 L255.4,1387.7 L256.6,1387.8 L257.7,1387.9 L258.8,1388.0 L260.0,1388.1 L261.1,1388.2 L262.2,1388.3 L263.4,1388.4 L264.5,1388.5 L265.6,1388.6 L266.8,1388.7 L267.9,1388.8 L269.0,1388.9 L270.2,1389.0 L271.3,1389.1 L272.5,1389.2 L273.6,1389.3 L274.7,1389.4 L275.9,1389.5 L277.0,1389.6 L278.1,1389.8 L279.3,1389.9 L280.4,1390.0 L281.5,1390.1 L282.7,1390.2 L283.8,1390.3 L285.0,1390.4 L286.1,1390.5 L287.2,1390.7 L288.4,1390.8 L289.5,1390.9 L290.6,1391.0 L291.8,1391.1 L292.9,1391.2 L294.0,1391.3 L295.2,1391.4 L296.3,1391.5 L297.5,1391.6 L298.6,1391.6 L299.7,1391.7 L300.9,1391.8 L302.0,1391.9 L303.1,1391.9 L304.3,1392.0 L305.4,1392.1 L306.5,1392.1 L307.7,1392.2 L308.8,1392.2 L309.9,1392.2 L311.1,1392.3 L312.2,1392.3 L313.4,1392.3 L314.5,1392.3 L315.6,1392.3 L316.8,1392.3 L317.9,1392.3 L319.0,1392.3 L320.2,1392.3 L321.3,1392.2 L322.4,1392.2 L323.6,1392.1 L324.7,1392.0 L325.9,1392.0 L327.0,1391.9 L328.1,1391.8 L329.3,1391.7 L330.4,1391.6 L331.5,1391.4 L332.7,1391.3 L333.8,1391.2 L334.9,1391.0 L336.1,1390.8 L337.2,1390.6 L338.4,1390.4 L339.5,1390.2 L340.6,1390.0 L341.8,1389.8 L342.9,1389.5 L344.0,1389.3 L345.2,1389.0 L346.3,1388.7 L347.4,1388.4 L348.6,1388.1 L349.7,1387.8 L350.8,1387.4 L352.0,1387.0 L353.1,1386.7 L354.3,1386.3 L355.4,1385.9 L356.5,1385.4 L357.7,1385.0 L358.8,1384.6 L359.9,1384.1 L361.1,1383.6 L362.2,1383.2 L363.3,1382.7 L364.5,1382.2 L365.6,1381.7 L366.8,1381.2 L367.9,1380.7 L369.0,1380.2 L370.2,1379.6 L371.3,1379.1 L372.4,1378.6 L373.6,1378.1 L374.7,1377.6 L375.8,1377.0 L377.0,1376.5 L378.1,1376.0 L379.2,1375.5 L380.4,1375.0 L381.5,1374.5 L382.7,1374.0 L383.8,1373.5 L384.9,1373.0 L386.1,1372.5 L387.2,1372.1 L388.3,1371.6 L389.5,1371.2 L390.6,1370.7 L391.7,1370.3 L392.9,1369.9 L394.0,1369.5 L395.2,1369.1 L396.3,1368.8 L397.4,1368.4 L398.6,1368.1 L399.7,1367.8 L400.8,1367.5 L402.0,1367.3 L403.1,1367.0 L404.2,1366.8 L405.4,1366.6 L406.5,1366.4 L407.7,1366.2 L408.8,1366.0 L409.9,1365.9 L411.1,1365.8 L412.2,1365.7 L413.3,1365.6 L414.5,1365.5 L415.6,1365.5 L416.7,1365.4 L417.9,1365.4 L419.0,1365.4 L420.2,1365.4 L421.3,1365.4 L422.4,1365.5 L423.6,1365.5 L424.7,1365.6 L425.8,1365.7 L427.0,1365.8 L428.1,1365.9 L429.2,1366.0 L430.4,1366.2 L431.5,1366.3 L432.6,1366.5 L433.8,1366.7 L434.9,1366.9 L436.1,1367.1 L437.2,1367.3 L438.3,1367.6 L439.5,1367.8 L440.6,1368.1 L441.7,1368.4 L442.9,1368.7 L444.0,1369.0 L445.1,1369.3 L446.3,1369.6 L447.4,1369.9 L448.6,1370.3 L449.7,1370.7 L450.8,1371.0 L452.0,1371.4 L453.1,1371.8 L454.2,1372.2 L455.4,1372.6 L456.5,1373.0 L457.6,1373.5 L458.8,1373.9 L459.9,1374.4 L461.1,1374.8 L462.2,1375.3 L463.3,1375.8 L464.5,1376.3 L465.6,1376.8 L466.7,1377.3 L467.9,1377.8 L469.0,1378.3 L470.1,1378.8 L471.3,1379.4 L472.4,1379.9 L473.5,1380.4 L474.7,1381.0 L475.8,1381.6 L477.0,1382.1 L478.1,1382.7 L479.2,1383.3 L480.4,1383.8 L481.5,1384.4 L482.6,1385.0 L483.8,1385.6 L484.9,1386.2 L486.0,1386.8 L487.2,1387.4 L488.3,1388.0 L489.5,1388.6 L490.6,1389.2 L491.7,1389.8 L492.9,1390.4 L494.0,1391.1 L495.1,1391.7 L496.3,1392.3 L497.4,1392.9 L498.5,1393.5 L499.7,1394.2 L500.8,1394.8 L501.9,1395.4 L503.1,1396.0 L504.2,1396.7 L505.4,1397.3 L506.5,1397.9 L507.6,1398.5 L508.8,1399.2 L509.9,1399.8 L511.0,1400.4 L512.2,1401.0 L513.3,1401.6 L514.4,1402.2 L515.6,1402.8 L516.7,1403.4 L517.9,1404.0 L519.0,1404.6 L520.1,1405.2 L521.3,1405.8 L522.4,1406.4 L523.5,1407.0 L524.7,1407.6 L525.8,1408.1 L526.9,1408.7 L528.1,1409.3 L529.2,1409.8 L530.4,1410.4 L531.5,1410.9 L532.6,1411.5 L533.8,1412.0 L534.9,1412.5 L536.0,1413.0 L537.2,1413.6 L538.3,1414.1 L539.4,1414.5 L540.6,1415.0 L541.7,1415.5 L542.9,1416.0 L544.0,1416.4 L545.1,1416.9 L546.3,1417.3 L547.4,1417.8 L548.5,1418.2 L549.7,1418.6 L550.8,1419.0 L551.9,1419.4 L553.1,1419.8 L554.2,1420.2 L555.3,1420.6 L556.5,1420.9 L557.6,1421.3 L558.8,1421.7 L559.9,1422.0 L561.0,1422.3 L562.2,1422.7 L563.3,1423.0 L564.4,1423.3 L565.6,1423.6 L566.7,1423.9 L567.8,1424.1 L569.0,1424.4 L570.1,1424.7 L571.3,1424.9 L572.4,1425.2 L573.5,1425.4 L574.7,1425.7 L575.8,1425.9 L576.9,1426.1 L578.1,1426.3 L579.2,1426.5 L580.3,1426.7 L581.5,1426.9 L582.6,1427.1 L583.8,1427.2 L584.9,1427.4 L586.0,1427.5 L587.2,1427.7 L588.3,1427.8 L589.4,1427.9 L590.6,1428.1 L591.7,1428.2 L592.8,1428.3 L594.0,1428.4 L595.1,1428.5 L596.2,1428.5 L597.4,1428.6 L598.5,1428.7 L599.7,1428.7 L600.8,1428.8 L601.9,1428.8 L603.1,1428.9 L604.2,1428.9 L605.3,1428.9 L606.5,1428.9 L607.6,1428.9 L608.7,1428.9 L609.9,1428.9 L611.0,1428.9 L612.2,1428.8 L613.3,1428.8 L614.4,1428.8 L615.6,1428.7 L616.7,1428.6 L617.8,1428.6 L619.0,1428.5 L620.1,1428.4 L621.2,1428.3 L622.4,1428.2 L623.5,1428.1 L624.7,1428.0 L625.8,1427.9 L626.9,1427.8 L628.1,1427.6 L629.2,1427.5 L630.3,1427.3 L631.5,1427.2 L632.6,1427.0 L633.7,1426.8 L634.9,1426.6 L636.0,1426.4 L637.1,1426.3 L638.3,1426.0 L639.4,1425.8 L640.6,1425.6 L641.7,1425.4 L642.8,1425.2 L644.0,1424.9 L645.1,1424.7 L646.2,1424.4 L647.4,1424.1 L648.5,1423.9 L649.6,1423.6 L650.8,1423.3 L651.9,1423.0 L653.1,1422.7 L654.2,1422.4 L655.3,1422.1 L656.5,1421.8 L657.6,1421.4 L658.7,1421.1 L659.9,1420.7 L661.0,1420.4 L662.1,1420.0 L663.3,1419.7 L664.4,1419.3 L665.5,1418.9 L666.7,1418.5 L667.8,1418.1 L669.0,1417.7 L670.1,1417.3 L671.2,1416.9 L672.4,1416.5 L673.5,1416.0 L674.6,1415.6 L675.8,1415.1 L676.9,1414.7 L678.0,1414.2 L679.2,1413.8 L680.3,1413.3 L681.5,1412.8 L682.6,1412.3 L683.7,1411.8 L684.9,1411.3 L686.0,1410.8 L687.1,1410.3 L688.3,1409.7 L689.4,1409.2 L690.5,1408.7 L691.7,1408.1 L692.8,1407.6 L694.0,1407.0 L695.1,1406.4 L696.2,1405.8 L697.4,1405.3 L698.5,1404.7 L699.6,1404.1 L700.8,1403.5 L701.9,1402.9 L703.0,1402.2 L704.2,1401.6 L705.3,1401.0 L706.5,1400.3 L707.6,1399.7 L708.7,1399.0 L709.9,1398.4 L711.0,1397.7 L712.1,1397.0 L713.3,1396.3 L714.4,1395.7 L715.5,1395.0 L716.7,1394.3 L717.8,1393.5 L718.9,1392.8 L720.1,1392.1 L721.2,1391.4 L722.4,1390.6 L723.5,1389.9 L724.6,1389.1 L725.8,1388.4 L726.9,1387.6 L728.0,1386.8 L729.2,1386.1 L730.3,1385.3 L731.4,1384.5 L732.6,1383.7 L733.7,1382.9 L734.9,1382.1 L736.0,1381.2 L737.1,1380.4 L738.3,1379.5 L739.4,1378.6 L740.5,1377.7 L741.7,1376.8 L742.8,1375.8 L743.9,1374.9 L745.1,1373.8 L746.2,1372.8 L747.3,1371.7 L748.5,1370.6 L749.6,1369.4 L750.8,1368.2 L751.9,1366.9 L753.0,1365.6 L754.2,1364.2 L755.3,1362.8 L756.4,1361.3 L757.6,1359.8 L758.7,1358.2 L759.8,1356.5 L761.0,1354.8 L762.1,1353.0 L763.3,1351.1 L764.4,1349.2 L765.5,1347.2 L766.7,1345.1 L767.8,1342.9 L768.9,1340.6 L770.1,1338.3 L771.2,1335.8 L772.3,1333.3 L773.5,1330.7 L774.6,1328.0 L775.8,1325.2 L776.9,1322.2 L778.0,1319.2 L779.2,1316.1 L780.3,1312.9 L781.4,1309.6 L782.6,1306.2 L783.7,1302.7 L784.8,1299.0 L786.0,1295.3 L787.1,1291.5 L788.2,1287.6 L789.4,1283.7 L790.5,1279.6 L791.7,1275.4 L792.8,1271.1 L793.9,1266.8 L795.1,1262.3 L796.2,1257.8 L797.3,1253.1 L798.5,1248.4 L799.6,1243.6 L800.7,1238.7 L801.9,1233.7 L803.0,1228.6 L804.2,1223.4 L805.3,1218.2 L806.4,1212.8 L807.6,1207.4 L808.7,1201.9 L809.8,1196.3 L811.0,1190.7 L812.1,1184.9 L813.2,1179.1 L814.4,1173.1 L815.5,1167.1 L816.7,1161.1 L817.8,1154.9 L818.9,1148.6 L820.1,1142.3 L821.2,1135.9 L822.3,1129.5 L823.5,1122.9 L824.6,1116.3 L825.7,1109.6 L826.9,1102.8 L828.0,1096.0 L829.2,1089.0 L830.3,1082.0 L831.4,1075.0 L832.6,1067.8 L833.7,1060.6 L834.8,1053.3 L836.0,1046.0 L837.1,1038.6 L838.2,1031.1 L839.4,1023.5 L840.5,1015.9 L841.6,1008.2 L842.8,1000.4 L843.9,992.6 L845.1,984.7 L846.2,976.8 L847.3,968.9 L848.5,960.9 L849.6,953.0 L850.7,945.2 L851.9,937.5 L853.0,929.8 L854.1,922.3 L855.3,915.0 L856.4,907.8 L857.6,900.9 L858.7,894.2 L859.8,887.7 L861.0,881.6 L862.1,875.7 L863.2,870.2 L864.4,865.1 L865.5,860.3 L866.6,855.9 L867.8,851.8 L868.9,848.1 L870.0,844.8 L871.2,841.8 L872.3,839.1 L873.5,836.8 L874.6,834.9 L875.7,833.3 L876.9,832.1 L878.0,831.2 L879.1,830.7 L880.3,830.5 L881.4,830.6 L882.5,831.1 L883.7,832.0 L884.8,833.2 L886.0,834.7 L887.1,836.6 L888.2,838.8 L889.4,841.3 L890.5,844.2 L891.6,847.4 L892.8,851.0 L893.9,854.9 L895.0,859.1 L896.2,863.6 L897.3,868.5 L898.5,873.7 L899.6,879.2 L900.7,885.0 L901.9,891.0 L903.0,897.3 L904.1,903.8 L905.3,910.6 L906.4,917.5 L907.5,924.6 L908.7,931.9 L909.8,939.3 L911.0,946.9 L912.1,954.5 L913.2,962.3 L914.4,970.1 L915.5,978.0 L916.6,985.9 L917.8,993.9 L918.9,1001.8 L920.0,1009.8 L921.2,1017.8 L922.3,1025.8 L923.4,1033.7 L924.6,1041.7 L925.7,1049.6 L926.9,1057.5 L928.0,1065.3 L929.1,1073.1 L930.3,1080.9 L931.4,1088.5 L932.5,1096.1 L933.7,1103.7 L934.8,1111.1 L935.9,1118.5 L937.1,1125.8 L938.2,1132.9 L939.4,1140.0 L940.5,1146.9 L941.6,1153.7 L942.8,1160.4 L943.9,1166.9 L945.0,1173.3 L946.2,1179.5 L947.3,1185.6 L948.4,1191.5 L949.6,1197.3 L950.7,1202.9 L951.8,1208.4 L953.0,1213.7 L954.1,1218.9 L955.3,1223.9 L956.4,1228.8 L957.5,1233.6 L958.7,1238.3 L959.8,1242.8 L960.9,1247.2 L962.1,1251.5 L963.2,1255.7 L964.3,1259.7 L965.5,1263.7 L966.6,1267.5 L967.8,1271.3 L968.9,1274.9 L970.0,1278.5 L971.2,1281.9 L972.3,1285.3 L973.4,1288.6 L974.6,1291.8 L975.7,1294.9 L976.8,1298.0 L978.0,1301.0 L979.1,1303.9 L980.3,1306.7 L981.4,1309.5 L982.5,1312.2 L983.7,1314.9 L984.8,1317.5 L985.9,1320.1 L987.1,1322.6 L988.2,1325.1 L989.3,1327.5 L990.5,1329.9 L991.6,1332.2 L992.8,1334.5 L993.9,1336.8 L995.0,1339.0 L996.2,1341.1 L997.3,1343.2 L998.4,1345.3 L999.6,1347.3 L1000.7,1349.3 L1001.8,1351.3 L1003.0,1353.2 L1004.1,1355.1 L1005.2,1356.9 L1006.4,1358.7 L1007.5,1360.5 L1008.7,1362.2 L1009.8,1363.9 L1010.9,1365.6 L1012.1,1367.2 L1013.2,1368.8 L1014.3,1370.3 L1015.5,1371.9 L1016.6,1373.4 L1017.7,1374.8 L1018.9,1376.3 L1020.0,1377.7 L1021.2,1379.0 L1022.3,1380.4 L1023.4,1381.7 L1024.6,1383.0 L1025.7,1384.3 L1026.8,1385.5 L1028.0,1386.8 L1029.1,1388.0 L1030.2,1389.1 L1031.4,1390.3 L1032.5,1391.4 L1033.7,1392.5 L1034.8,1393.6 L1035.9,1394.7 L1037.1,1395.8 L1038.2,1396.8 L1039.3,1397.8 L1040.5,1398.8 L1041.6,1399.8 L1042.7,1400.8 L1043.9,1401.7 L1045.0,1402.7 L1046.1,1403.6 L1047.3,1404.5 L1048.4,1405.4 L1049.6,1406.3 L1050.7,1407.2 L1051.8,1408.0 L1053.0,1408.9 L1054.1,1409.7 L1055.2,1410.6 L1056.4,1411.4 L1057.5,1412.2 L1058.6,1413.0 L1059.8,1413.8 L1060.9,1414.6 L1062.1,1415.4 L1063.2,1416.2 L1064.3,1416.9 L1065.5,1417.7 L1066.6,1418.4 L1067.7,1419.1 L1068.9,1419.9 L1070.0,1420.6 L1071.1,1421.3 L1072.3,1422.0 L1073.4,1422.7 L1074.5,1423.3 L1075.7,1424.0 L1076.8,1424.7 L1078.0,1425.3 L1079.1,1426.0 L1080.2,1426.6 L1081.4,1427.2 L1082.5,1427.9 L1083.6,1428.5 L1084.8,1429.1 L1085.9,1429.7 L1087.0,1430.3 L1088.2,1430.8 L1089.3,1431.4 L1090.5,1432.0 L1091.6,1432.5 L1092.7,1433.1 L1093.9,1433.6 L1095.0,1434.2 L1096.1,1434.7 L1097.3,1435.2 L1098.4,1435.7 L1099.5,1436.2 L1100.7,1436.7 L1101.8,1437.2 L1103.0,1437.7 L1104.1,1438.2 L1105.2,1438.6 L1106.4,1439.1 L1107.5,1439.6 L1108.6,1440.0 L1109.8,1440.5 L1110.9,1440.9 L1112.0,1441.3 L1113.2,1441.8 L1114.3,1442.2 L1115.5,1442.6 L1116.6,1443.0 L1117.7,1443.4 L1118.9,1443.8 L1120.0,1444.2 L1121.1,1444.6 L1122.3,1445.0 L1123.4,1445.3 L1124.5,1445.7 L1125.7,1446.1 L1126.8,1446.4 L1127.9,1446.8 L1129.1,1447.1 L1130.2,1447.5 L1131.4,1447.8 L1132.5,1448.1 L1133.6,1448.5 L1134.8,1448.8 L1135.9,1449.1 L1137.0,1449.4 L1138.2,1449.7 L1139.3,1450.0 L1140.4,1450.3 L1141.6,1450.6 L1142.7,1450.9 L1143.9,1451.2 L1145.0,1451.5 L1146.1,1451.8 L1147.3,1452.0 L1148.4,1452.3 L1149.5,1452.6 L1150.7,1452.8 L1151.8,1453.1 L1152.9,1453.3 L1154.1,1453.6 L1155.2,1453.8 L1156.3,1454.1 L1157.5,1454.3 L1158.6,1454.6 L1159.8,1454.8 L1160.9,1455.0 L1162.0,1455.3 L1163.2,1455.5 L1164.3,1455.7 L1165.4,1455.9 L1166.6,1456.1 L1167.7,1456.4 L1168.8,1456.6 L1170.0,1456.8 L1171.1,1457.0 L1172.3,1457.2 L1173.4,1457.4 L1174.5,1457.6 L1175.7,1457.8 L1176.8,1458.0" stroke="#000000"/>
<path d="M154.3,1379.3 L155.4,1379.5 L156.6,1379.7 L157.7,1380.0 L158.8,1380.2 L160.0,1380.4 L161.1,1380.6 L162.3,1380.8 L163.4,1381.0 L164.5,1381.2 L165.7,1381.3 L166.8,1381.5 L167.9,1381.7 L169.1,1381.9 L170.2,1382.1 L171.3,1382.3 L172.5,1382.4 L173.6,1382.6 L174.8,1382.8 L175.9,1382.9 L177.0,1383.1 L178.2,1383.3 L179.3,1383.4 L180.4,1383.6 L181.6,1383.7 L182.7,1383.9 L183.8,1384.0 L185.0,1384.2 L186.1,1384.3 L187.2,1384.5 L188.4,1384.6 L189.5,1384.8 L190.7,1384.9 L191.8,1385.0 L192.9,1385.2 L194.1,1385.3 L195.2,1385.4 L196.3,1385.6 L197.5,1385.7 L198.6,1385.8 L199.7,1385.9 L200.9,1386.1 L202.0,1386.2 L203.2,1386.3 L204.3,1386.4 L205.4,1386.5 L206.6,1386.7 L207.7,1386.8 L208.8,1386.9 L210.0,1387.0 L211.1,1387.1 L212.2,1387.2 L213.4,1387.3 L214.5,1387.4 L215.7,1387.5 L216.8,1387.6 L217.9,1387.7 L219.1,1387.9 L220.2,1388.0 L221.3,1388.1 L222.5,1388.2 L223.6,1388.3 L224.7,1388.4 L225.9,1388.5 L227.0,1388.6 L228.1,1388.7 L229.3,1388.7 L230.4,1388.8 L231.6,1388.9 L232.7,1389.0 L233.8,1389.1 L235.0,1389.2 L236.1,1389.3 L237.2,1389.4 L238.4,1389.5 L239.5,1389.6 L240.6,1389.7 L241.8,1389.8 L242.9,1389.9 L244.1,1390.0 L245.2,1390.1 L246.3,1390.2 L247.5,1390.3 L248.6,1390.4 L249.7,1390.5 L250.9,1390.5 L252.0,1390.6 L253.1,1390.7 L254.3,1390.8 L255.4,1390.9 L256.6,1391.0 L257.7,1391.1 L258.8,1391.2 L260.0,1391.3 L261.1,1391.4 L262.2,1391.5 L263.4,1391.6 L264.5,1391.7 L265.6,1391.8 L266.8,1391.9 L267.9,1392.0 L269.0,1392.1 L270.2,1392.2 L271.3,1392.4 L272.5,1392.5 L273.6,1392.6 L274.7,1392.7 L275.9,1392.8 L277.0,1392.9 L278.1,1393.0 L279.3,1393.1 L280.4,1393.2 L281.5,1393.4 L282.7,1393.5 L283.8,1393.6 L285.0,1393.7 L286.1,1393.8 L287.2,1393.9 L288.4,1394.1 L289.5,1394.2 L290.6,1394.3 L291.8,1394.4 L292.9,1394.5 L294.0,1394.6 L295.2,1394.7 L296.3,1394.8 L297.5,1394.9 L298.6,1395.0 L299.7,1395.1 L300.9,1395.2 L302.0,1395.2 L303.1,1395.3 L304.3,1395.4 L305.4,1395.5 L306.5,1395.5 L307.7,1395.6 L308.8,1395.6 L309.9,1395.7 L311.1,1395.7 L312.2,1395.7 L313.4,1395.8 L314.5,1395.8 L315.6,1395.8 L316.8,1395.8 L317.9,1395.8 L319.0,1395.8 L320.2,1395.8 L321.3,1395.7 L322.4,1395.7 L323.6,1395.6 L324.7,1395.6 L325.9,1395.5 L327.0,1395.4 L328.1,1395.4 L329.3,1395.3 L330.4,1395.2 L331.5,1395.0 L332.7,1394.9 L333.8,1394.8 L334.9,1394.6 L336.1,1394.5 L337.2,1394.3 L338.4,1394.1 L339.5,1393.9 L340.6,1393.7 L341.8,1393.5 L342.9,1393.2 L344.0,1393.0 L345.2,1392.7 L346.3,1392.4 L347.4,1392.1 L348.6,1391.8 L349.7,1391.5 L350.8,1391.2 L352.0,1390.8 L353.1,1390.4 L354.3,1390.1 L355.4,1389.7 L356.5,1389.2 L357.7,1388.8 L358.8,1388.4 L359.9,1387.9 L361.1,1387.5 L362.2,1387.0 L363.3,1386.5 L364.5,1386.0 L365.6,1385.5 L366.8,1385.0 L367.9,1384.5 L369.0,1384.0 L370.2,1383.5 L371.3,1383.0 L372.4,1382.5 L373.6,1382.0 L374.7,1381.5 L375.8,1381.0 L377.0,1380.5 L378.1,1380.0 L379.2,1379.5 L380.4,1379.0 L381.5,1378.5 L382.7,1378.0 L383.8,1377.5 L384.9,1377.0 L386.1,1376.6 L387.2,1376.1 L388.3,1375.7 L389.5,1375.3 L390.6,1374.9 L391.7,1374.5 L392.9,1374.1 L394.0,1373.7 L395.2,1373.4 L396.3,1373.0 L397.4,1372.7 L398.6,1372.4 L399.7,1372.1 L400.8,1371.9 L402.0,1371.6 L403.1,1371.4 L404.2,1371.2 L405.4,1371.0 L406.5,1370.9 L407.7,1370.7 L408.8,1370.6 L409.9,1370.5 L411.1,1370.4 L412.2,1370.4 L413.3,1370.3 L414.5,1370.3 L415.6,1370.2 L416.7,1370.2 L417.9,1370.2 L419.0,1370.3 L420.2,1370.3 L421.3,1370.4 L422.4,1370.5 L423.6,1370.5 L424.7,1370.6 L425.8,1370.8 L427.0,1370.9 L428.1,1371.0 L429.2,1371.2 L430.4,1371.4 L431.5,1371.6 L432.6,1371.8 L433.8,1372.0 L434.9,1372.2 L436.1,1372.4 L437.2,1372.7 L438.3,1372.9 L439.5,1373.2 L440.6,1373.5 L441.7,1373.8 L442.9,1374.1 L444.0,1374.4 L445.1,1374.7 L446.3,1375.1 L447.4,1375.4 L448.6,1375.8 L449.7,1376.1 L450.8,1376.5 L452.0,1376.9 L453.1,1377.3 L454.2,1377.7 L455.4,1378.1 L456.5,1378.5 L457.6,1378.9 L458.8,1379.3 L459.9,1379.7 L461.1,1380.2 L462.2,1380.6 L463.3,1381.1 L464.5,1381.5 L465.6,1382.0 L466.7,1382.5 L467.9,1383.0 L469.0,1383.4 L470.1,1383.9 L471.3,1384.4 L472.4,1384.9 L473.5,1385.4 L474.7,1385.9 L475.8,1386.5 L477.0,1387.0 L478.1,1387.5 L479.2,1388.0 L480.4,1388.6 L481.5,1389.1 L482.6,1389.6 L483.8,1390.2 L484.9,1390.7 L486.0,1391.3 L487.2,1391.8 L488.3,1392.4 L489.5,1392.9 L490.6,1393.5 L491.7,1394.1 L492.9,1394.6 L494.0,1395.2 L495.1,1395.8 L496.3,1396.3 L497.4,1396.9 L498.5,1397.5 L499.7,1398.0 L500.8,1398.6 L501.9,1399.2 L503.1,1399.8 L504.2,1400.3 L505.4,1400.9 L506.5,1401.5 L507.6,1402.1 L508.8,1402.6 L509.9,1403.2 L511.0,1403.8 L512.2,1404.4 L513.3,1404.9 L514.4,1405.5 L515.6,1406.1 L516.7,1406.6 L517.9,1407.2 L519.0,1407.8 L520.1,1408.3 L521.3,1408.9 L522.4,1409.4 L523.5,1410.0 L524.7,1410.5 L525.8,1411.1 L526.9,1411.6 L528.1,1412.2 L529.2,1412.7 L530.4,1413.2 L531.5,1413.8 L532.6,1414.3 L533.8,1414.8 L534.9,1415.3 L536.0,1415.9 L537.2,1416.4 L538.3,1416.9 L539.4,1417.4 L540.6,1417.8 L541.7,1418.3 L542.9,1418.8 L544.0,1419.3 L545.1,1419.8 L546.3,1420.2 L547.4,1420.7 L548.5,1421.1 L549.7,1421.6 L550.8,1422.0 L551.9,1422.4 L553.1,1422.9 L554.2,1423.3 L555.3,1423.7 L556.5,1424.1 L557.6,1424.5 L558.8,1424.8 L559.9,1425.2 L561.0,1425.6 L562.2,1425.9 L563.3,1426.3 L564.4,1426.6 L565.6,1426.9 L566.7,1427.3 L567.8,1427.6 L569.0,1427.9 L570.1,1428.2 L571.3,1428.4 L572.4,1428.7 L573.5,1429.0 L574.7,1429.2 L575.8,1429.5 L576.9,1429.7 L578.1,1429.9 L579.2,1430.1 L580.3,1430.3 L581.5,1430.5 L582.6,1430.7 L583.8,1430.8 L584.9,1431.0 L586.0,1431.1 L587.2,1431.2 L588.3,1431.3 L589.4,1431.4 L590.6,1431.5 L591.7,1431.6 L592.8,1431.6 L594.0,1431.7 L595.1,1431.7 L596.2,1431.7 L597.4,1431.7 L598.5,1431.7 L599.7,1431.6 L600.8,1431.6 L601.9,1431.5 L603.1,1431.5 L604.2,1431.4 L605.3,1431.3 L606.5,1431.1 L607.6,1431.0 L608.7,1430.9 L609.9,1430.7 L611.0,1430.5 L612.2,1430.3 L613.3,1430.1 L614.4,1429.9 L615.6,1429.7 L616.7,1429.4 L617.8,1429.2 L619.0,1428.9 L620.1,1428.6 L621.2,1428.4 L622.4,1428.1 L623.5,1427.8 L624.7,1427.4 L625.8,1427.1 L626.9,1426.8 L628.1,1426.5 L629.2,1426.1 L630.3,1425.8 L631.5,1425.4 L632.6,1425.0 L633.7,1424.7 L634.9,1424.3 L636.0,1423.9 L637.1,1423.5 L638.3,1423.1 L639.4,1422.7 L640.6,1422.4 L641.7,1422.0 L642.8,1421.6 L644.0,1421.1 L645.1,1420.7 L646.2,1420.3 L647.4,1419.9 L648.5,1419.5 L649.6,1419.1 L650.8,1418.7 L651.9,1418.3 L653.1,1417.9 L654.2,1417.5 L655.3,1417.1 L656.5,1416.7 L657.6,1416.3 L658.7,1415.9 L659.9,1415.5 L661.0,1415.1 L662.1,1414.7 L663.3,1414.3 L664.4,1413.9 L665.5,1413.4 L666.7,1413.0 L667.8,1412.6 L669.0,1412.2 L670.1,1411.7 L671.2,1411.3 L672.4,1410.8 L673.5,1410.4 L674.6,1409.9 L675.8,1409.5 L676.9,1409.0 L678.0,1408.5 L679.2,1408.0 L680.3,1407.5 L681.5,1407.0 L682.6,1406.5 L683.7,1406.0 L684.9,1405.5 L686.0,1404.9 L687.1,1404.4 L688.3,1403.8 L689.4,1403.2 L690.5,1402.6 L691.7,1402.0 L692.8,1401.4 L694.0,1400.8 L695.1,1400.1 L696.2,1399.5 L697.4,1398.8 L698.5,1398.1 L699.6,1397.4 L700.8,1396.7 L701.9,1396.0 L703.0,1395.2 L704.2,1394.4 L705.3,1393.6 L706.5,1392.8 L707.6,1392.0 L708.7,1391.2 L709.9,1390.3 L711.0,1389.4 L712.1,1388.5 L713.3,1387.6 L714.4,1386.6 L715.5,1385.6 L716.7,1384.6 L717.8,1383.6 L718.9,1382.5 L720.1,1381.4 L721.2,1380.2 L722.4,1379.0 L723.5,1377.8 L724.6,1376.5 L725.8,1375.2 L726.9,1373.8 L728.0,1372.4 L729.2,1370.9 L730.3,1369.4 L731.4,1367.8 L732.6,1366.2 L733.7,1364.5 L734.9,1362.7 L736.0,1360.9 L737.1,1359.1 L738.3,1357.2 L739.4,1355.2 L740.5,1353.1 L741.7,1351.0 L742.8,1348.8 L743.9,1346.5 L745.1,1344.2 L746.2,1341.7 L747.3,1339.2 L748.5,1336.7 L749.6,1334.0 L750.8,1331.3 L751.9,1328.4 L753.0,1325.5 L754.2,1322.5 L755.3,1319.4 L756.4,1316.3 L757.6,1313.0 L758.7,1309.6 L759.8,1306.2 L761.0,1302.7 L762.1,1299.1 L763.3,1295.4 L764.4,1291.7 L765.5,1287.8 L766.7,1283.9 L767.8,1279.9 L768.9,1275.8 L770.1,1271.6 L771.2,1267.4 L772.3,1263.0 L773.5,1258.6 L774.6,1254.1 L775.8,1249.6 L776.9,1244.9 L778.0,1240.2 L779.2,1235.4 L780.3,1230.6 L781.4,1225.6 L782.6,1220.6 L783.7,1215.5 L784.8,1210.4 L786.0,1205.1 L787.1,1199.8 L788.2,1194.5 L789.4,1189.0 L790.5,1183.5 L791.7,1177.9 L792.8,1172.3 L793.9,1166.5 L795.1,1160.8 L796.2,1154.9 L797.3,1149.0 L798.5,1143.0 L799.6,1136.9 L800.7,1130.8 L801.9,1124.6 L803.0,1118.4 L804.2,1112.1 L805.3,1105.7 L806.4,1099.3 L807.6,1092.8 L808.7,1086.2 L809.8,1079.6 L811.0,1072.9 L812.1,1066.2 L813.2,1059.4 L814.4,1052.6 L815.5,1045.6 L816.7,1038.7 L817.8,1031.7 L818.9,1024.6 L820.1,1017.4 L821.2,1010.3 L822.3,1003.0 L823.5,995.7 L824.6,988.4 L825.7,981.1 L826.9,973.8 L828.0,966.5 L829.2,959.4 L830.3,952.3 L831.4,945.4 L832.6,938.7 L833.7,932.2 L834.8,925.9 L836.0,919.8 L837.1,914.0 L838.2,908.6 L839.4,903.5 L840.5,898.7 L841.6,894.4 L842.8,890.5 L843.9,887.1 L845.1,884.1 L846.2,881.6 L847.3,879.6 L848.5,878.0 L849.6,876.8 L850.7,876.1 L851.9,875.8 L853.0,875.9 L854.1,876.4 L855.3,877.3 L856.4,878.5 L857.6,880.1 L858.7,882.1 L859.8,884.4 L861.0,887.0 L862.1,889.9 L863.2,893.1 L864.4,896.6 L865.5,900.3 L866.6,904.4 L867.8,908.6 L868.9,913.2 L870.0,917.9 L871.2,922.9 L872.3,928.0 L873.5,933.4 L874.6,938.9 L875.7,944.6 L876.9,950.4 L878.0,956.4 L879.1,962.6 L880.3,968.9 L881.4,975.2 L882.5,981.7 L883.7,988.4 L884.8,995.1 L886.0,1001.9 L887.1,1008.7 L888.2,1015.7 L889.4,1022.7 L890.5,1029.7 L891.6,1036.8 L892.8,1044.0 L893.9,1051.2 L895.0,1058.3 L896.2,1065.5 L897.3,1072.7 L898.5,1079.9 L899.6,1087.1 L900.7,1094.3 L901.9,1101.4 L903.0,1108.5 L904.1,1115.5 L905.3,1122.5 L906.4,1129.4 L907.5,1136.3 L908.7,1143.0 L909.8,1149.7 L911.0,1156.2 L912.1,1162.7 L913.2,1169.0 L914.4,1175.2 L915.5,1181.3 L916.6,1187.3 L917.8,1193.1 L918.9,1198.9 L920.0,1204.5 L921.2,1210.0 L922.3,1215.4 L923.4,1220.7 L924.6,1225.8 L925.7,1230.9 L926.9,1235.8 L928.0,1240.7 L929.1,1245.4 L930.3,1250.0 L931.4,1254.6 L932.5,1259.0 L933.7,1263.4 L934.8,1267.6 L935.9,1271.7 L937.1,1275.8 L938.2,1279.8 L939.4,1283.6 L940.5,1287.4 L941.6,1291.1 L942.8,1294.7 L943.9,1298.2 L945.0,1301.7 L946.2,1305.0 L947.3,1308.3 L948.4,1311.5 L949.6,1314.6 L950.7,1317.7 L951.8,1320.7 L953.0,1323.6 L954.1,1326.4 L955.3,1329.2 L956.4,1331.9 L957.5,1334.5 L958.7,1337.1 L959.8,1339.6 L960.9,1342.0 L962.1,1344.4 L963.2,1346.7 L964.3,1349.0 L965.5,1351.2 L966.6,1353.4 L967.8,1355.5 L968.9,1357.5 L970.0,1359.5 L971.2,1361.5 L972.3,1363.4 L973.4,1365.3 L974.6,1367.1 L975.7,1368.9 L976.8,1370.6 L978.0,1372.3 L979.1,1374.0 L980.3,1375.6 L981.4,1377.2 L982.5,1378.8 L983.7,1380.3 L984.8,1381.8 L985.9,1383.3 L987.1,1384.8 L988.2,1386.2 L989.3,1387.6 L990.5,1389.0 L991.6,1390.3 L992.8,1391.7 L993.9,1393.0 L995.0,1394.3 L996.2,1395.6 L997.3,1396.8 L998.4,1398.1 L999.6,1399.3 L1000.7,1400.5 L1001.8,1401.7 L1003.0,1402.9 L1004.1,1404.0 L1005.2,1405.1 L1006.4,1406.3 L1007.5,1407.4 L1008.7,1408.4 L1009.8,1409.5 L1010.9,1410.5 L1012.1,1411.6 L1013.2,1412.6 L1014.3,1413.6 L1015.5,1414.6 L1016.6,1415.5 L1017.7,1416.5 L1018.9,1417.4 L1020.0,1418.3 L1021.2,1419.2 L1022.3,1420.1 L1023.4,1421.0 L1024.6,1421.8 L1025.7,1422.7 L1026.8,1423.5 L1028.0,1424.3 L1029.1,1425.1 L1030.2,1425.9 L1031.4,1426.6 L1032.5,1427.4 L1033.7,1428.1 L1034.8,1428.8 L1035.9,1429.6 L1037.1,1430.3 L1038.2,1430.9 L1039.3,1431.6 L1040.5,1432.3 L1041.6,1432.9 L1042.7,1433.5 L1043.9,1434.2 L1045.0,1434.8 L1046.1,1435.4 L1047.3,1436.0 L1048.4,1436.5 L1049.6,1437.1 L1050.7,1437.6 L1051.8,1438.2 L1053.0,1438.7 L1054.1,1439.2 L1055.2,1439.7 L1056.4,1440.2 L1057.5,1440.7 L1058.6,1441.2 L1059.8,1441.7 L1060.9,1442.1 L1062.1,1442.6 L1063.2,1443.0 L1064.3,1443.4 L1065.5,1443.8 L1066.6,1444.3 L1067.7,1444.7 L1068.9,1445.0 L1070.0,1445.4 L1071.1,1445.8 L1072.3,1446.2 L1073.4,1446.5 L1074.5,1446.9 L1075.7,1447.2 L1076.8,1447.6 L1078.0,1447.9 L1079.1,1448.2 L1080.2,1448.5 L1081.4,1448.8 L1082.5,1449.1 L1083.6,1449.4 L1084.8,1449.7 L1085.9,1450.0 L1087.0,1450.2 L1088.2,1450.5 L1089.3,1450.8 L1090.5,1451.0 L1091.6,1451.3 L1092.7,1451.5 L1093.9,1451.8 L1095.0,1452.0 L1096.1,1452.2 L1097.3,1452.4 L1098.4,1452.7 L1099.5,1452.9 L1100.7,1453.1 L1101.8,1453.3 L1103.0,1453.5 L1104.1,1453.7 L1105.2,1453.9 L1106.4,1454.1 L1107.5,1454.3 L1108.6,1454.4 L1109.8,1454.6 L1110.9,1454.8 L1112.0,1455.0 L1113.2,1455.2 L1114.3,1455.3 L1115.5,1455.5 L1116.6,1455.7 L1117.7,1455.8 L1118.9,1456.0 L1120.0,1456.1 L1121.1,1456.3 L1122.3,1456.5 L1123.4,1456.6 L1124.5,1456.8 L1125.7,1456.9 L1126.8,1457.1 L1127.9,1457.2 L1129.1,1457.4 L1130.2,1457.5 L1131.4,1457.7 L1132.5,1457.8 L1133.6,1458.0 L1134.8,1458.1 L1135.9,1458.3 L1137.0,1458.4 L1138.2,1458.6 L1139.3,1458.7 L1140.4,1458.9 L1141.6,1459.1 L1142.7,1459.2 L1143.9,1459.4 L1145.0,1459.5 L1146.1,1459.7 L1147.3,1459.9 L1148.4,1460.0 L1149.5,1460.2 L1150.7,1460.4 L1151.8,1460.5 L1152.9,1460.7 L1154.1,1460.9 L1155.2,1461.1 L1156.3,1461.3 L1157.5,1461.5 L1158.6,1461.7 L1159.8,1461.9 L1160.9,1462.1 L1162.0,1462.3 L1163.2,1462.5 L1164.3,1462.7 L1165.4,1462.9 L1166.6,1463.1 L1167.7,1463.4 L1168.8,1463.6 L1170.0,1463.8 L1171.1,1464.1 L1172.3,1464.3 L1173.4,1464.6 L1174.5,1464.8 L1175.7,1465.1 L1176.8,1465.4" stroke="#ff0000"/>
<path d="M154.3,1388.5 L155.4,1388.5 L156.6,1388.4 L157.7,1388.4 L158.8,1388.4 L160.0,1388.4 L161.1,1388.4 L162.3,1388.4 L163.4,1388.4 L164.5,1388.4 L165.7,1388.5 L166.8,1388.5 L167.9,1388.5 L169.1,1388.5 L170.2,1388.6 L171.3,1388.6 L172.5,1388.7 L173.6,1388.7 L174.8,1388.8 L175.9,1388.8 L177.0,1388.9 L178.2,1389.0 L179.3,1389.1 L180.4,1389.1 L181.6,1389.2 L182.7,1389.3 L183.8,1389.4 L185.0,1389.5 L186.1,1389.6 L187.2,1389.7 L188.4,1389.8 L189.5,1389.9 L190.7,1390.0 L191.8,1390.1 L192.9,1390.2 L194.1,1390.3 L195.2,1390.5 L196.3,1390.6 L197.5,1390.7 L198.6,1390.8 L199.7,1391.0 L200.9,1391.1 L202.0,1391.2 L203.2,1391.4 L204.3,1391.5 L205.4,1391.7 L206.6,1391.8 L207.7,1392.0 L208.8,1392.1 L210.0,1392.3 L211.1,1392.4 L212.2,1392.6 L213.4,1392.7 L214.5,1392.9 L215.7,1393.0 L216.8,1393.2 L217.9,1393.4 L219.1,1393.5 L220.2,1393.7 L221.3,1393.8 L222.5,1394.0 L223.6,1394.2 L224.7,1394.3 L225.9,1394.5 L227.0,1394.7 L228.1,1394.8 L229.3,1395.0 L230.4,1395.2 L231.6,1395.3 L232.7,1395.5 L233.8,1395.7 L235.0,1395.8 L236.1,1396.0 L237.2,1396.2 L238.4,1396.3 L239.5,1396.5 L240.6,1396.7 L241.8,1396.8 L242.9,1397.0 L244.1,1397.2 L245.2,1397.3 L246.3,1397.5 L247.5,1397.7 L248.6,1397.8 L249.7,1398.0 L250.9,1398.1 L252.0,1398.3 L253.1,1398.4 L254.3,1398.6 L255.4,1398.7 L256.6,1398.9 L257.7,1399.0 L258.8,1399.2 L260.0,1399.3 L261.1,1399.5 L262.2,1399.6 L263.4,1399.8 L264.5,1399.9 L265.6,1400.0 L266.8,1400.2 L267.9,1400.3 L269.0,1400.4 L270.2,1400.5 L271.3,1400.7 L272.5,1400.8 L273.6,1400.9 L274.7,1401.0 L275.9,1401.1 L277.0,1401.2 L278.1,1401.3 L279.3,1401.4 L280.4,1401.5 L281.5,1401.6 L282.7,1401.7 L283.8,1401.8 L285.0,1401.8 L286.1,1401.9 L287.2,1402.0 L288.4,1402.1 L289.5,1402.1 L290.6,1402.2 L291.8,1402.2 L292.9,1402.3 L294.0,1402.3 L295.2,1402.4 L296.3,1402.4 L297.5,1402.4 L298.6,1402.5 L299.7,1402.5 L300.9,1402.5 L302.0,1402.5 L303.1,1402.5 L304.3,1402.5 L305.4,1402.5 L306.5,1402.5 L307.7,1402.5 L308.8,1402.5 L309.9,1402.5 L311.1,1402.4 L312.2,1402.4 L313.4,1402.4 L314.5,1402.3 L315.6,1402.3 L316.8,1402.2 L317.9,1402.1 L319.0,1402.1 L320.2,1402.0 L321.3,1401.9 L322.4,1401.8 L323.6,1401.7 L324.7,1401.6 L325.9,1401.5 L327.0,1401.4 L328.1,1401.2 L329.3,1401.1 L330.4,1401.0 L331.5,1400.8 L332.7,1400.7 L333.8,1400.5 L334.9,1400.3 L336.1,1400.1 L337.2,1400.0 L338.4,1399.8 L339.5,1399.6 L340.6,1399.3 L341.8,1399.1 L342.9,1398.9 L344.0,1398.7 L345.2,1398.4 L346.3,1398.2 L347.4,1397.9 L348.6,1397.7 L349.7,1397.4 L350.8,1397.1 L352.0,1396.8 L353.1,1396.5 L354.3,1396.2 L355.4,1395.9 L356.5,1395.5 L357.7,1395.2 L358.8,1394.9 L359.9,1394.5 L361.1,1394.2 L362.2,1393.8 L363.3,1393.4 L364.5,1393.1 L365.6,1392.7 L366.8,1392.3 L367.9,1392.0 L369.0,1391.6 L370.2,1391.2 L371.3,1390.8 L372.4,1390.4 L373.6,1390.1 L374.7,1389.7 L375.8,1389.3 L377.0,1388.9 L378.1,1388.6 L379.2,1388.2 L380.4,1387.8 L381.5,1387.5 L382.7,1387.1 L383.8,1386.8 L384.9,1386.4 L386.1,1386.1 L387.2,1385.7 L388.3,1385.4 L389.5,1385.1 L390.6,1384.8 L391.7,1384.5 L392.9,1384.2 L394.0,1383.9 L395.2,1383.6 L396.3,1383.3 L397.4,1383.1 L398.6,1382.8 L399.7,1382.6 L400.8,1382.4 L402.0,1382.2 L403.1,1382.0 L404.2,1381.8 L405.4,1381.7 L406.5,1381.5 L407.7,1381.4 L408.8,1381.2 L409.9,1381.1 L411.1,1381.0 L412.2,1380.9 L413.3,1380.8 L414.5,1380.8 L415.6,1380.7 L416.7,1380.7 L417.9,1380.6 L419.0,1380.6 L420.2,1380.6 L421.3,1380.6 L422.4,1380.6 L423.6,1380.6 L424.7,1380.7 L425.8,1380.7 L427.0,1380.8 L428.1,1380.9 L429.2,1381.0 L430.4,1381.1 L431.5,1381.2 L432.6,1381.3 L433.8,1381.4 L434.9,1381.6 L436.1,1381.8 L437.2,1381.9 L438.3,1382.1 L439.5,1382.3 L440.6,1382.5 L441.7,1382.7 L442.9,1383.0 L444.0,1383.2 L445.1,1383.5 L446.3,1383.8 L447.4,1384.0 L448.6,1384.3 L449.7,1384.6 L450.8,1385.0 L452.0,1385.3 L453.1,1385.6 L454.2,1386.0 L455.4,1386.3 L456.5,1386.7 L457.6,1387.1 L458.8,1387.5 L459.9,1387.9 L461.1,1388.3 L462.2,1388.8 L463.3,1389.2 L464.5,1389.7 L465.6,1390.1 L466.7,1390.6 L467.9,1391.0 L469.0,1391.5 L470.1,1392.0 L471.3,1392.5 L472.4,1393.0 L473.5,1393.5 L474.7,1394.1 L475.8,1394.6 L477.0,1395.1 L478.1,1395.6 L479.2,1396.2 L480.4,1396.7 L481.5,1397.3 L482.6,1397.8 L483.8,1398.4 L484.9,1399.0 L486.0,1399.5 L487.2,1400.1 L488.3,1400.7 L489.5,1401.3 L490.6,1401.9 L491.7,1402.5 L492.9,1403.0 L494.0,1403.6 L495.1,1404.2 L496.3,1404.8 L497.4,1405.4 L498.5,1406.0 L499.7,1406.6 L500.8,1407.2 L501.9,1407.8 L503.1,1408.4 L504.2,1409.0 L505.4,1409.6 L506.5,1410.2 L507.6,1410.8 L508.8,1411.4 L509.9,1412.0 L511.0,1412.5 L512.2,1413.1 L513.3,1413.7 L514.4,1414.3 L515.6,1414.9 L516.7,1415.4 L517.9,1416.0 L519.0,1416.6 L520.1,1417.1 L521.3,1417.7 L522.4,1418.2 L523.5,1418.8 L524.7,1419.3 L525.8,1419.9 L526.9,1420.4 L528.1,1420.9 L529.2,1421.4 L530.4,1421.9 L531.5,1422.4 L532.6,1422.9 L533.8,1423.4 L534.9,1423.9 L536.0,1424.3 L537.2,1424.8 L538.3,1425.3 L539.4,1425.7 L540.6,1426.1 L541.7,1426.6 L542.9,1427.0 L544.0,1427.4 L545.1,1427.8 L546.3,1428.1 L547.4,1428.5 L548.5,1428.9 L549.7,1429.2 L550.8,1429.6 L551.9,1429.9 L553.1,1430.2 L554.2,1430.6 L555.3,1430.9 L556.5,1431.2 L557.6,1431.4 L558.8,1431.7 L559.9,1432.0 L561.0,1432.3 L562.2,1432.5 L563.3,1432.8 L564.4,1433.0 L565.6,1433.2 L566.7,1433.5 L567.8,1433.7 L569.0,1433.9 L570.1,1434.1 L571.3,1434.3 L572.4,1434.5 L573.5,1434.7 L574.7,1434.8 L575.8,1435.0 L576.9,1435.1 L578.1,1435.3 L579.2,1435.4 L580.3,1435.6 L581.5,1435.7 L582.6,1435.8 L583.8,1436.0 L584.9,1436.1 L586.0,1436.2 L587.2,1436.3 L588.3,1436.4 L589.4,1436.5 L590.6,1436.6 L591.7,1436.7 L592.8,1436.7 L594.0,1436.8 L595.1,1436.9 L596.2,1436.9 L597.4,1437.0 L598.5,1437.0 L599.7,1437.1 L600.8,1437.1 L601.9,1437.2 L603.1,1437.2 L604.2,1437.2 L605.3,1437.3 L606.5,1437.3 L607.6,1437.3 L608.7,1437.3 L609.9,1437.3 L611.0,1437.3 L612.2,1437.4 L613.3,1437.4 L614.4,1437.3 L615.6,1437.3 L616.7,1437.3 L617.8,1437.3 L619.0,1437.3 L620.1,1437.3 L621.2,1437.2 L622.4,1437.2 L623.5,1437.2 L624.7,1437.1 L625.8,1437.1 L626.9,1437.0 L628.1,1437.0 L629.2,1436.9 L630.3,1436.8 L631.5,1436.8 L632.6,1436.7 L633.7,1436.6 L634.9,1436.5 L636.0,1436.4 L637.1,1436.3 L638.3,1436.2 L639.4,1436.1 L640.6,1436.0 L641.7,1435.9 L642.8,1435.7 L644.0,1435.6 L645.1,1435.5 L646.2,1435.3 L647.4,1435.2 L648.5,1435.0 L649.6,1434.9 L650.8,1434.7 L651.9,1434.5 L653.1,1434.4 L654.2,1434.2 L655.3,1434.0 L656.5,1433.8 L657.6,1433.6 L658.7,1433.4 L659.9,1433.2 L661.0,1432.9 L662.1,1432.7 L663.3,1432.5 L664.4,1432.2 L665.5,1432.0 L666.7,1431.7 L667.8,1431.5 L669.0,1431.2 L670.1,1430.9 L671.2,1430.7 L672.4,1430.4 L673.5,1430.1 L674.6,1429.8 L675.8,1429.5 L676.9,1429.2 L678.0,1428.8 L679.2,1428.5 L680.3,1428.2 L681.5,1427.8 L682.6,1427.5 L683.7,1427.1 L684.9,1426.7 L686.0,1426.4 L687.1,1426.0 L688.3,1425.6 L689.4,1425.2 L690.5,1424.8 L691.7,1424.4 L692.8,1424.0 L694.0,1423.5 L695.1,1423.1 L696.2,1422.6 L697.4,1422.2 L698.5,1421.7 L699.6,1421.3 L700.8,1420.8 L701.9,1420.3 L703.0,1419.8 L704.2,1419.3 L705.3,1418.8 L706.5,1418.3 L707.6,1417.7 L708.7,1417.2 L709.9,1416.7 L711.0,1416.1 L712.1,1415.5 L713.3,1415.0 L714.4,1414.4 L715.5,1413.8 L716.7,1413.2 L717.8,1412.6 L718.9,1412.0 L720.1,1411.3 L721.2,1410.7 L722.4,1410.0 L723.5,1409.4 L724.6,1408.7 L725.8,1408.0 L726.9,1407.3 L728.0,1406.5 L729.2,1405.8 L730.3,1405.0 L731.4,1404.2 L732.6,1403.4 L733.7,1402.6 L734.9,1401.8 L736.0,1400.9 L737.1,1400.0 L738.3,1399.1 L739.4,1398.2 L740.5,1397.2 L741.7,1396.2 L742.8,1395.2 L743.9,1394.2 L745.1,1393.1 L746.2,1392.0 L747.3,1390.9 L748.5,1389.7 L749.6,1388.5 L750.8,1387.3 L751.9,1386.0 L753.0,1384.8 L754.2,1383.4 L755.3,1382.1 L756.4,1380.7 L757.6,1379.2 L758.7,1377.8 L759.8,1376.3 L761.0,1374.7 L762.1,1373.1 L763.3,1371.5 L764.4,1369.9 L765.5,1368.1 L766.7,1366.4 L767.8,1364.6 L768.9,1362.8 L770.1,1360.9 L771.2,1358.9 L772.3,1357.0 L773.5,1354.9 L774.6,1352.9 L775.8,1350.8 L776.9,1348.6 L778.0,1346.4 L779.2,1344.1 L780.3,1341.8 L781.4,1339.4 L782.6,1337.0 L783.7,1334.5 L784.8,1331.9 L786.0,1329.3 L787.1,1326.7 L788.2,1323.9 L789.4,1321.1 L790.5,1318.3 L791.7,1315.4 L792.8,1312.4 L793.9,1309.3 L795.1,1306.2 L796.2,1303.0 L797.3,1299.8 L798.5,1296.4 L799.6,1293.0 L800.7,1289.5 L801.9,1286.0 L803.0,1282.3 L804.2,1278.6 L805.3,1274.8 L806.4,1270.9 L807.6,1266.9 L808.7,1262.9 L809.8,1258.7 L811.0,1254.5 L812.1,1250.1 L813.2,1245.7 L814.4,1241.2 L815.5,1236.6 L816.7,1231.9 L817.8,1227.1 L818.9,1222.2 L820.1,1217.2 L821.2,1212.1 L822.3,1206.9 L823.5,1201.6 L824.6,1196.2 L825.7,1190.7 L826.9,1185.1 L828.0,1179.4 L829.2,1173.5 L830.3,1167.6 L831.4,1161.5 L832.6,1155.3 L833.7,1149.0 L834.8,1142.6 L836.0,1136.1 L837.1,1129.4 L838.2,1122.7 L839.4,1115.8 L840.5,1108.8 L841.6,1101.6 L842.8,1094.3 L843.9,1087.0 L845.1,1079.5 L846.2,1071.9 L847.3,1064.3 L848.5,1056.6 L849.6,1048.8 L850.7,1041.1 L851.9,1033.3 L853.0,1025.5 L854.1,1017.8 L855.3,1010.0 L856.4,1002.4 L857.6,994.8 L858.7,987.2 L859.8,979.8 L861.0,972.5 L862.1,965.3 L863.2,958.2 L864.4,951.3 L865.5,944.5 L866.6,938.0 L867.8,931.6 L868.9,925.4 L870.0,919.5 L871.2,913.8 L872.3,908.4 L873.5,903.2 L874.6,898.4 L875.7,893.8 L876.9,889.5 L878.0,885.6 L879.1,882.0 L880.3,878.8 L881.4,875.9 L882.5,873.3 L883.7,871.2 L884.8,869.4 L886.0,868.0 L887.1,867.0 L888.2,866.4 L889.4,866.2 L890.5,866.5 L891.6,867.2 L892.8,868.3 L893.9,869.8 L895.0,871.6 L896.2,873.8 L897.3,876.4 L898.5,879.3 L899.6,882.6 L900.7,886.1 L901.9,890.0 L903.0,894.1 L904.1,898.5 L905.3,903.2 L906.4,908.1 L907.5,913.2 L908.7,918.6 L909.8,924.1 L911.0,929.9 L912.1,935.9 L913.2,942.0 L914.4,948.3 L915.5,954.7 L916.6,961.3 L917.8,968.0 L918.9,974.8 L920.0,981.8 L921.2,988.8 L922.3,995.9 L923.4,1003.1 L924.6,1010.3 L925.7,1017.6 L926.9,1024.9 L928.0,1032.3 L929.1,1039.7 L930.3,1047.0 L931.4,1054.4 L932.5,1061.7 L933.7,1069.1 L934.8,1076.3 L935.9,1083.5 L937.1,1090.7 L938.2,1097.7 L939.4,1104.7 L940.5,1111.6 L941.6,1118.4 L942.8,1125.0 L943.9,1131.6 L945.0,1138.1 L946.2,1144.4 L947.3,1150.7 L948.4,1156.8 L949.6,1162.9 L950.7,1168.9 L951.8,1174.7 L953.0,1180.5 L954.1,1186.2 L955.3,1191.8 L956.4,1197.2 L957.5,1202.6 L958.7,1207.9 L959.8,1213.2 L960.9,1218.3 L962.1,1223.3 L963.2,1228.3 L964.3,1233.1 L965.5,1237.9 L966.6,1242.6 L967.8,1247.2 L968.9,1251.7 L970.0,1256.1 L971.2,1260.5 L972.3,1264.8 L973.4,1268.9 L974.6,1273.1 L975.7,1277.1 L976.8,1281.1 L978.0,1284.9 L979.1,1288.7 L980.3,1292.5 L981.4,1296.1 L982.5,1299.7 L983.7,1303.2 L984.8,1306.7 L985.9,1310.0 L987.1,1313.3 L988.2,1316.6 L989.3,1319.7 L990.5,1322.8 L991.6,1325.8 L992.8,1328.8 L993.9,1331.7 L995.0,1334.5 L996.2,1337.3 L997.3,1340.0 L998.4,1342.7 L999.6,1345.3 L1000.7,1347.8 L1001.8,1350.3 L1003.0,1352.7 L1004.1,1355.1 L1005.2,1357.4 L1006.4,1359.6 L1007.5,1361.8 L1008.7,1364.0 L1009.8,1366.1 L1010.9,1368.1 L1012.1,1370.1 L1013.2,1372.0 L1014.3,1373.9 L1015.5,1375.8 L1016.6,1377.6 L1017.7,1379.3 L1018.9,1381.0 L1020.0,1382.7 L1021.2,1384.3 L1022.3,1385.9 L1023.4,1387.4 L1024.6,1388.9 L1025.7,1390.4 L1026.8,1391.8 L1028.0,1393.2 L1029.1,1394.6 L1030.2,1395.9 L1031.4,1397.1 L1032.5,1398.4 L1033.7,1399.6 L1034.8,1400.8 L1035.9,1401.9 L1037.1,1403.0 L1038.2,1404.1 L1039.3,1405.2 L1040.5,1406.2 L1041.6,1407.2 L1042.7,1408.1 L1043.9,1409.1 L1045.0,1410.0 L1046.1,1410.9 L1047.3,1411.8 L1048.4,1412.6 L1049.6,1413.5 L1050.7,1414.3 L1051.8,1415.1 L1053.0,1415.9 L1054.1,1416.6 L1055.2,1417.4 L1056.4,1418.1 L1057.5,1418.8 L1058.6,1419.5 L1059.8,1420.2 L1060.9,1420.9 L1062.1,1421.5 L1063.2,1422.2 L1064.3,1422.8 L1065.5,1423.4 L1066.6,1424.1 L1067.7,1424.7 L1068.9,1425.3 L1070.0,1425.9 L1071.1,1426.5 L1072.3,1427.1 L1073.4,1427.7 L1074.5,1428.3 L1075.7,1428.9 L1076.8,1429.4 L1078.0,1430.0 L1079.1,1430.6 L1080.2,1431.1 L1081.4,1431.7 L1082.5,1432.2 L1083.6,1432.8 L1084.8,1433.3 L1085.9,1433.8 L1087.0,1434.4 L1088.2,1434.9 L1089.3,1435.4 L1090.5,1435.9 L1091.6,1436.4 L1092.7,1436.9 L1093.9,1437.4 L1095.0,1437.9 L1096.1,1438.4 L1097.3,1438.9 L1098.4,1439.3 L1099.5,1439.8 L1100.7,1440.3 L1101.8,1440.7 L1103.0,1441.2 L1104.1,1441.6 L1105.2,1442.1 L1106.4,1442.5 L1107.5,1442.9 L1108.6,1443.4 L1109.8,1443.8 L1110.9,1444.2 L1112.0,1444.6 L1113.2,1445.0 L1114.3,1445.4 L1115.5,1445.8 L1116.6,1446.2 L1117.7,1446.6 L1118.9,1446.9 L1120.0,1447.3 L1121.1,1447.7 L1122.3,1448.0 L1123.4,1448.4 L1124.5,1448.7 L1125.7,1449.1 L1126.8,1449.4 L1127.9,1449.7 L1129.1,1450.1 L1130.2,1450.4 L1131.4,1450.7 L1132.5,1451.0 L1133.6,1451.3 L1134.8,1451.6 L1135.9,1451.9 L1137.0,1452.2 L1138.2,1452.5 L1139.3,1452.7 L1140.4,1453.0 L1141.6,1453.3 L1142.7,1453.5 L1143.9,1453.8 L1145.0,1454.0 L1146.1,1454.3 L1147.3,1454.5 L1148.4,1454.7 L1149.5,1455.0 L1150.7,1455.2 L1151.8,1455.4 L1152.9,1455.6 L1154.1,1455.8 L1155.2,1456.0 L1156.3,1456.2 L1157.5,1456.4 L1158.6,1456.6 L1159.8,1456.7 L1160.9,1456.9 L1162.0,1457.1 L1163.2,1457.2 L1164.3,1457.4 L1165.4,1457.5 L1166.6,1457.6 L1167.7,1457.8 L1168.8,1457.9 L1170.0,1458.0 L1171.1,1458.1 L1172.3,1458.3 L1173.4,1458.4 L1174.5,1458.5 L1175.7,1458.6 L1176.8,1458.6" stroke="#0000ff"/>
<path d="M154.3,1383.5 L155.4,1383.7 L156.6,1383.9 L157.7,1384.1 L158.8,1384.3 L160.0,1384.4 L161.1,1384.6 L162.3,1384.8 L163.4,1385.0 L164.5,1385.2 L165.7,1385.3 L166.8,1385.5 L167.9,1385.7 L169.1,1385.9 L170.2,1386.0 L171.3,1386.2 L172.5,1386.4 L173.6,1386.5 L174.8,1386.7 L175.9,1386.8 L177.0,1387.0 L178.2,1387.1 L179.3,1387.3 L180.4,1387.4 L181.6,1387.6 L182.7,1387.7 L183.8,1387.8 L185.0,1388.0 L186.1,1388.1 L187.2,1388.2 L188.4,1388.4 L189.5,1388.5 L190.7,1388.6 L191.8,1388.8 L192.9,1388.9 L194.1,1389.0 L195.2,1389.1 L196.3,1389.3 L197.5,1389.4 L198.6,1389.5 L199.7,1389.6 L200.9,1389.7 L202.0,1389.8 L203.2,1389.9 L204.3,1390.1 L205.4,1390.2 L206.6,1390.3 L207.7,1390.4 L208.8,1390.5 L210.0,1390.6 L211.1,1390.7 L212.2,1390.8 L213.4,1390.9 L214.5,1391.0 L215.7,1391.1 L216.8,1391.2 L217.9,1391.3 L219.1,1391.4 L220.2,1391.5 L221.3,1391.6 L222.5,1391.7 L223.6,1391.8 L224.7,1391.9 L225.9,1392.0 L227.0,1392.0 L228.1,1392.1 L229.3,1392.2 L230.4,1392.3 L231.6,1392.4 L232.7,1392.5 L233.8,1392.6 L235.0,1392.7 L236.1,1392.8 L237.2,1392.9 L238.4,1393.0 L239.5,1393.1 L240.6,1393.1 L241.8,1393.2 L242.9,1393.3 L244.1,1393.4 L245.2,1393.5 L246.3,1393.6 L247.5,1393.7 L248.6,1393.8 L249.7,1393.9 L250.9,1394.0 L252.0,1394.0 L253.1,1394.1 L254.3,1394.2 L255.4,1394.3 L256.6,1394.4 L257.7,1394.5 L258.8,1394.6 L260.0,1394.7 L261.1,1394.8 L262.2,1394.9 L263.4,1395.0 L264.5,1395.1 L265.6,1395.2 L266.8,1395.3 L267.9,1395.4 L269.0,1395.5 L270.2,1395.6 L271.3,1395.7 L272.5,1395.8 L273.6,1395.9 L274.7,1396.0 L275.9,1396.1 L277.0,1396.2 L278.1,1396.4 L279.3,1396.5 L280.4,1396.6 L281.5,1396.7 L282.7,1396.8 L283.8,1396.9 L285.0,1397.0 L286.1,1397.2 L287.2,1397.3 L288.4,1397.4 L289.5,1397.5 L290.6,1397.6 L291.8,1397.7 L292.9,1397.8 L294.0,1397.9 L295.2,1398.0 L296.3,1398.1 L297.5,1398.2 L298.6,1398.3 L299.7,1398.4 L300.9,1398.5 L302.0,1398.5 L303.1,1398.6 L304.3,1398.7 L305.4,1398.8 L306.5,1398.8 L307.7,1398.9 L308.8,1398.9 L309.9,1399.0 L311.1,1399.0 L312.2,1399.1 L313.4,1399.1 L314.5,1399.1 L315.6,1399.1 L316.8,1399.1 L317.9,1399.1 L319.0,1399.1 L320.2,1399.1 L321.3,1399.1 L322.4,1399.1 L323.6,1399.0 L324.7,1399.0 L325.9,1398.9 L327.0,1398.8 L328.1,1398.8 L329.3,1398.7 L330.4,1398.6 L331.5,1398.5 L332.7,1398.3 L333.8,1398.2 L334.9,1398.1 L336.1,1397.9 L337.2,1397.8 L338.4,1397.6 L339.5,1397.4 L340.6,1397.2 L341.8,1397.0 L342.9,1396.8 L344.0,1396.5 L345.2,1396.3 L346.3,1396.0 L347.4,1395.7 L348.6,1395.4 L349.7,1395.1 L350.8,1394.8 L352.0,1394.5 L353.1,1394.1 L354.3,1393.8 L355.4,1393.4 L356.5,1393.0 L357.7,1392.6 L358.8,1392.2 L359.9,1391.7 L361.1,1391.3 L362.2,1390.9 L363.3,1390.4 L364.5,1389.9 L365.6,1389.5 L366.8,1389.0 L367.9,1388.5 L369.0,1388.0 L370.2,1387.6 L371.3,1387.1 L372.4,1386.6 L373.6,1386.1 L374.7,1385.6 L375.8,1385.1 L377.0,1384.6 L378.1,1384.2 L379.2,1383.7 L380.4,1383.2 L381.5,1382.8 L382.7,1382.3 L383.8,1381.8 L384.9,1381.4 L386.1,1381.0 L387.2,1380.5 L388.3,1380.1 L389.5,1379.7 L390.6,1379.3 L391.7,1379.0 L392.9,1378.6 L394.0,1378.3 L395.2,1377.9 L396.3,1377.6 L397.4,1377.3 L398.6,1377.0 L399.7,1376.8 L400.8,1376.5 L402.0,1376.3 L403.1,1376.1 L404.2,1375.9 L405.4,1375.8 L406.5,1375.6 L407.7,1375.5 L408.8,1375.4 L409.9,1375.3 L411.1,1375.2 L412.2,1375.1 L413.3,1375.1 L414.5,1375.1 L415.6,1375.1 L416.7,1375.1 L417.9,1375.1 L419.0,1375.1 L420.2,1375.2 L421.3,1375.2 L422.4,1375.3 L423.6,1375.4 L424.7,1375.5 L425.8,1375.6 L427.0,1375.8 L428.1,1375.9 L429.2,1376.1 L430.4,1376.3 L431.5,1376.4 L432.6,1376.6 L433.8,1376.9 L434.9,1377.1 L436.1,1377.3 L437.2,1377.6 L438.3,1377.8 L439.5,1378.1 L440.6,1378.4 L441.7,1378.6 L442.9,1378.9 L444.0,1379.3 L445.1,1379.6 L446.3,1379.9 L447.4,1380.2 L448.6,1380.6 L449.7,1380.9 L450.8,1381.3 L452.0,1381.7 L453.1,1382.1 L454.2,1382.4 L455.4,1382.8 L456.5,1383.2 L457.6,1383.6 L458.8,1384.1 L459.9,1384.5 L461.1,1384.9 L462.2,1385.3 L463.3,1385.8 L464.5,1386.2 L465.6,1386.7 L466.7,1387.1 L467.9,1387.6 L469.0,1388.1 L470.1,1388.6 L471.3,1389.0 L472.4,1389.5 L473.5,1390.0 L474.7,1390.5 L475.8,1391.0 L477.0,1391.5 L478.1,1392.0 L479.2,1392.5 L480.4,1393.0 L481.5,1393.6 L482.6,1394.1 L483.8,1394.6 L484.9,1395.1 L486.0,1395.7 L487.2,1396.2 L488.3,1396.7 L489.5,1397.3 L490.6,1397.8 L491.7,1398.4 L492.9,1398.9 L494.0,1399.5 L495.1,1400.0 L496.3,1400.6 L497.4,1401.1 L498.5,1401.7 L499.7,1402.2 L500.8,1402.8 L501.9,1403.3 L503.1,1403.9 L504.2,1404.4 L505.4,1405.0 L506.5,1405.6 L507.6,1406.1 L508.8,1406.7 L509.9,1407.2 L511.0,1407.8 L512.2,1408.3 L513.3,1408.9 L514.4,1409.4 L515.6,1410.0 L516.7,1410.5 L517.9,1411.1 L519.0,1411.6 L520.1,1412.1 L521.3,1412.7 L522.4,1413.2 L523.5,1413.8 L524.7,1414.3 L525.8,1414.8 L526.9,1415.3 L528.1,1415.9 L529.2,1416.4 L530.4,1416.9 L531.5,1417.4 L532.6,1417.9 L533.8,1418.4 L534.9,1418.9 L536.0,1419.4 L537.2,1419.9 L538.3,1420.4 L539.4,1420.8 L540.6,1421.3 L541.7,1421.8 L542.9,1422.3 L544.0,1422.7 L545.1,1423.2 L546.3,1423.6 L547.4,1424.0 L548.5,1424.5 L549.7,1424.9 L550.8,1425.3 L551.9,1425.7 L553.1,1426.1 L554.2,1426.5 L555.3,1426.9 L556.5,1427.3 L557.6,1427.7 L558.8,1428.1 L559.9,1428.4 L561.0,1428.8 L562.2,1429.1 L563.3,1429.4 L564.4,1429.8 L565.6,1430.1 L566.7,1430.4 L567.8,1430.7 L569.0,1431.0 L570.1,1431.3 L571.3,1431.5 L572.4,1431.8 L573.5,1432.0 L574.7,1432.3 L575.8,1432.5 L576.9,1432.7 L578.1,1432.9 L579.2,1433.1 L580.3,1433.3 L581.5,1433.5 L582.6,1433.6 L583.8,1433.8 L584.9,1433.9 L586.0,1434.1 L587.2,1434.2 L588.3,1434.3 L589.4,1434.4 L590.6,1434.4 L591.7,1434.5 L592.8,1434.6 L594.0,1434.6 L595.1,1434.6 L596.2,1434.6 L597.4,1434.6 L598.5,1434.6 L599.7,1434.6 L600.8,1434.5 L601.9,1434.5 L603.1,1434.4 L604.2,1434.3 L605.3,1434.2 L606.5,1434.1 L607.6,1434.0 L608.7,1433.8 L609.9,1433.7 L611.0,1433.5 L612.2,1433.3 L613.3,1433.1 L614.4,1432.9 L615.6,1432.7 L616.7,1432.5 L617.8,1432.2 L619.0,1432.0 L620.1,1431.7 L621.2,1431.4 L622.4,1431.2 L623.5,1430.9 L624.7,1430.6 L625.8,1430.3 L626.9,1430.0 L628.1,1429.6 L629.2,1429.3 L630.3,1429.0 L631.5,1428.6 L632.6,1428.3 L633.7,1428.0 L634.9,1427.6 L636.0,1427.3 L637.1,1426.9 L638.3,1426.5 L639.4,1426.2 L640.6,1425.8 L641.7,1425.4 L642.8,1425.1 L644.0,1424.7 L645.1,1424.3 L646.2,1424.0 L647.4,1423.6 L648.5,1423.2 L649.6,1422.9 L650.8,1422.5 L651.9,1422.1 L653.1,1421.8 L654.2,1421.4 L655.3,1421.1 L656.5,1420.7 L657.6,1420.4 L658.7,1420.0 L659.9,1419.6 L661.0,1419.3 L662.1,1418.9 L663.3,1418.6 L664.4,1418.2 L665.5,1417.8 L666.7,1417.5 L667.8,1417.1 L669.0,1416.7 L670.1,1416.3 L671.2,1415.9 L672.4,1415.5 L673.5,1415.1 L674.6,1414.7 L675.8,1414.3 L676.9,1413.9 L678.0,1413.4 L679.2,1413.0 L680.3,1412.5 L681.5,1412.1 L682.6,1411.6 L683.7,1411.1 L684.9,1410.6 L686.0,1410.1 L687.1,1409.5 L688.3,1409.0 L689.4,1408.4 L690.5,1407.9 L691.7,1407.3 L692.8,1406.7 L694.0,1406.0 L695.1,1405.4 L696.2,1404.8 L697.4,1404.1 L698.5,1403.4 L699.6,1402.7 L700.8,1402.0 L701.9,1401.2 L703.0,1400.4 L704.2,1399.6 L705.3,1398.8 L706.5,1398.0 L707.6,1397.1 L708.7,1396.2 L709.9,1395.3 L711.0,1394.4 L712.1,1393.4 L713.3,1392.5 L714.4,1391.5 L715.5,1390.4 L716.7,1389.3 L717.8,1388.2 L718.9,1387.1 L720.1,1386.0 L721.2,1384.8 L722.4,1383.5 L723.5,1382.3 L724.6,1381.0 L725.8,1379.6 L726.9,1378.3 L728.0,1376.9 L729.2,1375.4 L730.3,1373.9 L731.4,1372.4 L732.6,1370.9 L733.7,1369.3 L734.9,1367.6 L736.0,1365.9 L737.1,1364.2 L738.3,1362.4 L739.4,1360.6 L740.5,1358.7 L741.7,1356.8 L742.8,1354.8 L743.9,1352.8 L745.1,1350.7 L746.2,1348.6 L747.3,1346.4 L748.5,1344.2 L749.6,1341.9 L750.8,1339.6 L751.9,1337.2 L753.0,1334.8 L754.2,1332.3 L755.3,1329.7 L756.4,1327.1 L757.6,1324.5 L758.7,1321.7 L759.8,1318.9 L761.0,1316.1 L762.1,1313.2 L763.3,1310.2 L764.4,1307.1 L765.5,1304.0 L766.7,1300.8 L767.8,1297.6 L768.9,1294.3 L770.1,1290.9 L771.2,1287.5 L772.3,1283.9 L773.5,1280.4 L774.6,1276.7 L775.8,1273.0 L776.9,1269.2 L778.0,1265.3 L779.2,1261.3 L780.3,1257.3 L781.4,1253.2 L782.6,1249.0 L783.7,1244.7 L784.8,1240.4 L786.0,1235.9 L787.1,1231.4 L788.2,1226.8 L789.4,1222.2 L790.5,1217.4 L791.7,1212.6 L792.8,1207.6 L793.9,1202.6 L795.1,1197.5 L796.2,1192.3 L797.3,1187.0 L798.5,1181.7 L799.6,1176.2 L800.7,1170.7 L801.9,1165.0 L803.0,1159.3 L804.2,1153.4 L805.3,1147.5 L806.4,1141.5 L807.6,1135.4 L808.7,1129.2 L809.8,1122.8 L811.0,1116.4 L812.1,1109.9 L813.2,1103.3 L814.4,1096.6 L815.5,1089.8 L816.7,1082.9 L817.8,1075.8 L818.9,1068.7 L820.1,1061.5 L821.2,1054.1 L822.3,1046.7 L823.5,1039.1 L824.6,1031.4 L825.7,1023.6 L826.9,1015.8 L828.0,1007.8 L829.2,999.7 L830.3,991.5 L831.4,983.4 L832.6,975.3 L833.7,967.3 L834.8,959.4 L836.0,951.7 L837.1,944.2 L838.2,937.1 L839.4,930.2 L840.5,923.7 L841.6,917.7 L842.8,912.0 L843.9,906.9 L845.1,902.4 L846.2,898.4 L847.3,895.0 L848.5,892.1 L849.6,889.5 L850.7,887.4 L851.9,885.5 L853.0,884.0 L854.1,882.8 L855.3,882.0 L856.4,881.6 L857.6,881.5 L858.7,881.9 L859.8,882.6 L861.0,883.8 L862.1,885.5 L863.2,887.7 L864.4,890.3 L865.5,893.5 L866.6,897.1 L867.8,901.1 L868.9,905.6 L870.0,910.4 L871.2,915.5 L872.3,920.8 L873.5,926.4 L874.6,932.2 L875.7,938.2 L876.9,944.3 L878.0,950.4 L879.1,956.6 L880.3,962.8 L881.4,969.0 L882.5,975.3 L883.7,981.6 L884.8,987.9 L886.0,994.3 L887.1,1000.6 L888.2,1007.0 L889.4,1013.4 L890.5,1019.8 L891.6,1026.2 L892.8,1032.6 L893.9,1039.0 L895.0,1045.4 L896.2,1051.7 L897.3,1058.1 L898.5,1064.4 L899.6,1070.8 L900.7,1077.1 L901.9,1083.3 L903.0,1089.6 L904.1,1095.8 L905.3,1102.0 L906.4,1108.1 L907.5,1114.2 L908.7,1120.2 L909.8,1126.2 L911.0,1132.2 L912.1,1138.0 L913.2,1143.9 L914.4,1149.6 L915.5,1155.3 L916.6,1161.0 L917.8,1166.5 L918.9,1172.0 L920.0,1177.4 L921.2,1182.7 L922.3,1188.0 L923.4,1193.2 L924.6,1198.2 L925.7,1203.3 L926.9,1208.2 L928.0,1213.1 L929.1,1217.9 L930.3,1222.6 L931.4,1227.3 L932.5,1231.9 L933.7,1236.4 L934.8,1240.8 L935.9,1245.2 L937.1,1249.5 L938.2,1253.8 L939.4,1257.9 L940.5,1262.0 L941.6,1266.1 L942.8,1270.1 L943.9,1274.0 L945.0,1277.8 L946.2,1281.6 L947.3,1285.3 L948.4,1289.0 L949.6,1292.5 L950.7,1296.1 L951.8,1299.5 L953.0,1303.0 L954.1,1306.3 L955.3,1309.6 L956.4,1312.8 L957.5,1316.0 L958.7,1319.1 L959.8,1322.2 L960.9,1325.2 L962.1,1328.1 L963.2,1331.0 L964.3,1333.8 L965.5,1336.6 L966.6,1339.4 L967.8,1342.0 L968.9,1344.7 L970.0,1347.2 L971.2,1349.8 L972.3,1352.2 L973.4,1354.7 L974.6,1357.0 L975.7,1359.4 L976.8,1361.6 L978.0,1363.9 L979.1,1366.1 L980.3,1368.2 L981.4,1370.3 L982.5,1372.3 L983.7,1374.3 L984.8,1376.3 L985.9,1378.2 L987.1,1380.1 L988.2,1381.9 L989.3,1383.7 L990.5,1385.5 L991.6,1387.2 L992.8,1388.8 L993.9,1390.5 L995.0,1392.1 L996.2,1393.6 L997.3,1395.1 L998.4,1396.6 L999.6,1398.1 L1000.7,1399.5 L1001.8,1400.9 L1003.0,1402.2 L1004.1,1403.5 L1005.2,1404.8 L1006.4,1406.0 L1007.5,1407.2 L1008.7,1408.4 L1009.8,1409.6 L1010.9,1410.7 L1012.1,1411.8 L1013.2,1412.8 L1014.3,1413.9 L1015.5,1414.9 L1016.6,1415.9 L1017.7,1416.8 L1018.9,1417.7 L1020.0,1418.6 L1021.2,1419.5 L1022.3,1420.4 L1023.4,1421.2 L1024.6,1422.0 L1025.7,1422.8 L1026.8,1423.6 L1028.0,1424.3 L1029.1,1425.0 L1030.2,1425.7 L1031.4,1426.4 L1032.5,1427.1 L1033.7,1427.7 L1034.8,1428.3 L1035.9,1429.0 L1037.1,1429.6 L1038.2,1430.1 L1039.3,1430.7 L1040.5,1431.2 L1041.6,1431.8 L1042.7,1432.3 L1043.9,1432.8 L1045.0,1433.3 L1046.1,1433.8 L1047.3,1434.3 L1048.4,1434.7 L1049.6,1435.2 L1050.7,1435.7 L1051.8,1436.1 L1053.0,1436.5 L1054.1,1436.9 L1055.2,1437.4 L1056.4,1437.8 L1057.5,1438.2 L1058.6,1438.6 L1059.8,1439.0 L1060.9,1439.4 L1062.1,1439.8 L1063.2,1440.1 L1064.3,1440.5 L1065.5,1440.9 L1066.6,1441.3 L1067.7,1441.7 L1068.9,1442.0 L1070.0,1442.4 L1071.1,1442.7 L1072.3,1443.1 L1073.4,1443.5 L1074.5,1443.8 L1075.7,1444.2 L1076.8,1444.5 L1078.0,1444.8 L1079.1,1445.2 L1080.2,1445.5 L1081.4,1445.9 L1082.5,1446.2 L1083.6,1446.5 L1084.8,1446.8 L1085.9,1447.1 L1087.0,1447.5 L1088.2,1447.8 L1089.3,1448.1 L1090.5,1448.4 L1091.6,1448.7 L1092.7,1449.0 L1093.9,1449.3 L1095.0,1449.6 L1096.1,1449.9 L1097.3,1450.2 L1098.4,1450.5 L1099.5,1450.7 L1100.7,1451.0 L1101.8,1451.3 L1103.0,1451.6 L1104.1,1451.8 L1105.2,1452.1 L1106.4,1452.4 L1107.5,1452.6 L1108.6,1452.9 L1109.8,1453.2 L1110.9,1453.4 L1112.0,1453.7 L1113.2,1453.9 L1114.3,1454.2 L1115.5,1454.4 L1116.6,1454.6 L1117.7,1454.9 L1118.9,1455.1 L1120.0,1455.4 L1121.1,1455.6 L1122.3,1455.8 L1123.4,1456.0 L1124.5,1456.3 L1125.7,1456.5 L1126.8,1456.7 L1127.9,1456.9 L1129.1,1457.1 L1130.2,1457.4 L1131.4,1457.6 L1132.5,1457.8 L1133.6,1458.0 L1134.8,1458.2 L1135.9,1458.4 L1137.0,1458.6 L1138.2,1458.8 L1139.3,1459.0 L1140.4,1459.2 L1141.6,1459.3 L1142.7,1459.5 L1143.9,1459.7 L1145.0,1459.9 L1146.1,1460.1 L1147.3,1460.3 L1148.4,1460.4 L1149.5,1460.6 L1150.7,1460.8 L1151.8,1461.0 L1152.9,1461.1 L1154.1,1461.3 L1155.2,1461.5 L1156.3,1461.6 L1157.5,1461.8 L1158.6,1461.9 L1159.8,1462.1 L1160.9,1462.2 L1162.0,1462.4 L1163.2,1462.6 L1164.3,1462.7 L1165.4,1462.9 L1166.6,1463.0 L1167.7,1463.1 L1168.8,1463.3 L1170.0,1463.4 L1171.1,1463.6 L1172.3,1463.7 L1173.4,1463.8 L1174.5,1464.0 L1175.7,1464.1 L1176.8,1464.2" stroke="#ff00ff"/>
<path d="M154.3,1407.9 L155.4,1408.0 L156.6,1408.0 L157.7,1408.1 L158.8,1408.1 L160.0,1408.2 L161.1,1408.3 L162.3,1408.3 L163.4,1408.4 L164.5,1408.4 L165.7,1408.5 L166.8,1408.6 L167.9,1408.7 L169.1,1408.7 L170.2,1408.8 L171.3,1408.9 L172.5,1409.0 L173.6,1409.0 L174.8,1409.1 L175.9,1409.2 L177.0,1409.3 L178.2,1409.4 L179.3,1409.5 L180.4,1409.6 L181.6,1409.7 L182.7,1409.7 L183.8,1409.8 L185.0,1409.9 L186.1,1410.0 L187.2,1410.1 L188.4,1410.2 L189.5,1410.3 L190.7,1410.4 L191.8,1410.5 L192.9,1410.6 L194.1,1410.8 L195.2,1410.9 L196.3,1411.0 L197.5,1411.1 L198.6,1411.2 L199.7,1411.3 L200.9,1411.4 L202.0,1411.5 L203.2,1411.6 L204.3,1411.7 L205.4,1411.9 L206.6,1412.0 L207.7,1412.1 L208.8,1412.2 L210.0,1412.3 L211.1,1412.4 L212.2,1412.5 L213.4,1412.7 L214.5,1412.8 L215.7,1412.9 L216.8,1413.0 L217.9,1413.1 L219.1,1413.2 L220.2,1413.3 L221.3,1413.5 L222.5,1413.6 L223.6,1413.7 L224.7,1413.8 L225.9,1413.9 L227.0,1414.0 L228.1,1414.1 L229.3,1414.2 L230.4,1414.4 L231.6,1414.5 L232.7,1414.6 L233.8,1414.7 L235.0,1414.8 L236.1,1414.9 L237.2,1415.0 L238.4,1415.1 L239.5,1415.2 L240.6,1415.3 L241.8,1415.4 L242.9,1415.5 L244.1,1415.6 L245.2,1415.7 L246.3,1415.8 L247.5,1415.9 L248.6,1416.0 L249.7,1416.1 L250.9,1416.2 L252.0,1416.3 L253.1,1416.4 L254.3,1416.5 L255.4,1416.6 L256.6,1416.7 L257.7,1416.7 L258.8,1416.8 L260.0,1416.9 L261.1,1417.0 L262.2,1417.1 L263.4,1417.1 L264.5,1417.2 L265.6,1417.3 L266.8,1417.4 L267.9,1417.4 L269.0,1417.5 L270.2,1417.5 L271.3,1417.6 L272.5,1417.7 L273.6,1417.7 L274.7,1417.8 L275.9,1417.8 L277.0,1417.9 L278.1,1417.9 L279.3,1418.0 L280.4,1418.0 L281.5,1418.0 L282.7,1418.1 L283.8,1418.1 L285.0,1418.1 L286.1,1418.2 L287.2,1418.2 L288.4,1418.2 L289.5,1418.2 L290.6,1418.2 L291.8,1418.2 L292.9,1418.3 L294.0,1418.3 L295.2,1418.3 L296.3,1418.3 L297.5,1418.3 L298.6,1418.3 L299.7,1418.2 L300.9,1418.2 L302.0,1418.2 L303.1,1418.2 L304.3,1418.2 L305.4,1418.1 L306.5,1418.1 L307.7,1418.1 L308.8,1418.0 L309.9,1418.0 L311.1,1417.9 L312.2,1417.9 L313.4,1417.8 L314.5,1417.8 L315.6,1417.7 L316.8,1417.6 L317.9,1417.5 L319.0,1417.5 L320.2,1417.4 L321.3,1417.3 L322.4,1417.2 L323.6,1417.1 L324.7,1417.0 L325.9,1416.9 L327.0,1416.8 L328.1,1416.7 L329.3,1416.6 L330.4,1416.4 L331.5,1416.3 L332.7,1416.2 L333.8,1416.0 L334.9,1415.9 L336.1,1415.8 L337.2,1415.6 L338.4,1415.5 L339.5,1415.3 L340.6,1415.1 L341.8,1414.9 L342.9,1414.8 L344.0,1414.6 L345.2,1414.4 L346.3,1414.2 L347.4,1414.0 L348.6,1413.8 L349.7,1413.6 L350.8,1413.4 L352.0,1413.1 L353.1,1412.9 L354.3,1412.7 L355.4,1412.4 L356.5,1412.2 L357.7,1411.9 L358.8,1411.7 L359.9,1411.4 L361.1,1411.1 L362.2,1410.8 L363.3,1410.5 L364.5,1410.2 L365.6,1409.9 L366.8,1409.6 L367.9,1409.3 L369.0,1409.0 L370.2,1408.7 L371.3,1408.3 L372.4,1408.0 L373.6,1407.6 L374.7,1407.2 L375.8,1406.9 L377.0,1406.5 L378.1,1406.1 L379.2,1405.7 L380.4,1405.3 L381.5,1404.9 L382.7,1404.5 L383.8,1404.1 L384.9,1403.7 L386.1,1403.3 L387.2,1402.9 L388.3,1402.5 L389.5,1402.0 L390.6,1401.6 L391.7,1401.2 L392.9,1400.8 L394.0,1400.4 L395.2,1400.0 L396.3,1399.6 L397.4,1399.2 L398.6,1398.8 L399.7,1398.4 L400.8,1398.0 L402.0,1397.6 L403.1,1397.2 L404.2,1396.8 L405.4,1396.4 L406.5,1396.1 L407.7,1395.7 L408.8,1395.4 L409.9,1395.1 L411.1,1394.7 L412.2,1394.4 L413.3,1394.1 L414.5,1393.8 L415.6,1393.5 L416.7,1393.3 L417.9,1393.0 L419.0,1392.8 L420.2,1392.5 L421.3,1392.3 L422.4,1392.1 L423.6,1391.9 L424.7,1391.8 L425.8,1391.6 L427.0,1391.5 L428.1,1391.4 L429.2,1391.3 L430.4,1391.2 L431.5,1391.2 L432.6,1391.1 L433.8,1391.1 L434.9,1391.1 L436.1,1391.1 L437.2,1391.2 L438.3,1391.2 L439.5,1391.3 L440.6,1391.4 L441.7,1391.5 L442.9,1391.6 L444.0,1391.7 L445.1,1391.8 L446.3,1392.0 L447.4,1392.1 L448.6,1392.3 L449.7,1392.5 L450.8,1392.6 L452.0,1392.8 L453.1,1393.0 L454.2,1393.3 L455.4,1393.5 L456.5,1393.7 L457.6,1393.9 L458.8,1394.2 L459.9,1394.4 L461.1,1394.6 L462.2,1394.9 L463.3,1395.1 L464.5,1395.4 L465.6,1395.6 L466.7,1395.9 L467.9,1396.1 L469.0,1396.4 L470.1,1396.6 L471.3,1396.9 L472.4,1397.1 L473.5,1397.4 L474.7,1397.6 L475.8,1397.8 L477.0,1398.1 L478.1,1398.3 L479.2,1398.5 L480.4,1398.7 L481.5,1398.9 L482.6,1399.1 L483.8,1399.3 L484.9,1399.5 L486.0,1399.7 L487.2,1399.8 L488.3,1400.0 L489.5,1400.1 L490.6,1400.3 L491.7,1400.4 L492.9,1400.5 L494.0,1400.6 L495.1,1400.6 L496.3,1400.7 L497.4,1400.7 L498.5,1400.8 L499.7,1400.8 L500.8,1400.8 L501.9,1400.7 L503.1,1400.7 L504.2,1400.6 L505.4,1400.6 L506.5,1400.5 L507.6,1400.4 L508.8,1400.2 L509.9,1400.1 L511.0,1399.9 L512.2,1399.7 L513.3,1399.5 L514.4,1399.2 L515.6,1399.0 L516.7,1398.7 L517.9,1398.4 L519.0,1398.1 L520.1,1397.7 L521.3,1397.3 L522.4,1396.9 L523.5,1396.5 L524.7,1396.1 L525.8,1395.6 L526.9,1395.1 L528.1,1394.6 L529.2,1394.0 L530.4,1393.4 L531.5,1392.8 L532.6,1392.2 L533.8,1391.5 L534.9,1390.8 L536.0,1390.1 L537.2,1389.4 L538.3,1388.6 L539.4,1387.8 L540.6,1387.0 L541.7,1386.1 L542.9,1385.2 L544.0,1384.3 L545.1,1383.3 L546.3,1382.3 L547.4,1381.3 L548.5,1380.2 L549.7,1379.2 L550.8,1378.0 L551.9,1376.9 L553.1,1375.7 L554.2,1374.5 L555.3,1373.3 L556.5,1372.0 L557.6,1370.7 L558.8,1369.3 L559.9,1368.0 L561.0,1366.6 L562.2,1365.1 L563.3,1363.7 L564.4,1362.2 L565.6,1360.6 L566.7,1359.1 L567.8,1357.5 L569.0,1355.8 L570.1,1354.2 L571.3,1352.5 L572.4,1350.7 L573.5,1349.0 L574.7,1347.2 L575.8,1345.3 L576.9,1343.5 L578.1,1341.6 L579.2,1339.6 L580.3,1337.7 L581.5,1335.7 L582.6,1333.6 L583.8,1331.6 L584.9,1329.4 L586.0,1327.3 L587.2,1325.2 L588.3,1323.0 L589.4,1320.8 L590.6,1318.6 L591.7,1316.3 L592.8,1314.1 L594.0,1311.9 L595.1,1309.7 L596.2,1307.5 L597.4,1305.3 L598.5,1303.1 L599.7,1300.9 L600.8,1298.8 L601.9,1296.7 L603.1,1294.7 L604.2,1292.7 L605.3,1290.7 L606.5,1288.8 L607.6,1286.9 L608.7,1285.1 L609.9,1283.3 L611.0,1281.7 L612.2,1280.0 L613.3,1278.5 L614.4,1277.1 L615.6,1275.7 L616.7,1274.4 L617.8,1273.2 L619.0,1272.2 L620.1,1271.2 L621.2,1270.3 L622.4,1269.5 L623.5,1268.9 L624.7,1268.3 L625.8,1267.8 L626.9,1267.4 L628.1,1267.2 L629.2,1267.0 L630.3,1266.9 L631.5,1266.9 L632.6,1267.0 L633.7,1267.1 L634.9,1267.4 L636.0,1267.7 L637.1,1268.2 L638.3,1268.7 L639.4,1269.3 L640.6,1270.0 L641.7,1270.8 L642.8,1271.6 L644.0,1272.6 L645.1,1273.6 L646.2,1274.7 L647.4,1275.8 L648.5,1277.0 L649.6,1278.4 L650.8,1279.7 L651.9,1281.2 L653.1,1282.7 L654.2,1284.2 L655.3,1285.9 L656.5,1287.6 L657.6,1289.3 L658.7,1291.1 L659.9,1292.9 L661.0,1294.8 L662.1,1296.8 L663.3,1298.8 L664.4,1300.8 L665.5,1302.8 L666.7,1304.9 L667.8,1307.1 L669.0,1309.2 L670.1,1311.4 L671.2,1313.7 L672.4,1315.9 L673.5,1318.2 L674.6,1320.5 L675.8,1322.8 L676.9,1325.1 L678.0,1327.4 L679.2,1329.8 L680.3,1332.2 L681.5,1334.5 L682.6,1336.9 L683.7,1339.3 L684.9,1341.7 L686.0,1344.1 L687.1,1346.5 L688.3,1348.9 L689.4,1351.3 L690.5,1353.7 L691.7,1356.1 L692.8,1358.5 L694.0,1360.9 L695.1,1363.3 L696.2,1365.6 L697.4,1368.0 L698.5,1370.3 L699.6,1372.6 L700.8,1374.9 L701.9,1377.2 L703.0,1379.5 L704.2,1381.7 L705.3,1383.9 L706.5,1386.1 L707.6,1388.2 L708.7,1390.3 L709.9,1392.4 L711.0,1394.5 L712.1,1396.5 L713.3,1398.5 L714.4,1400.4 L715.5,1402.3 L716.7,1404.2 L717.8,1406.0 L718.9,1407.7 L720.1,1409.4 L721.2,1411.1 L722.4,1412.7 L723.5,1414.3 L724.6,1415.8 L725.8,1417.3 L726.9,1418.7 L728.0,1420.0 L729.2,1421.3 L730.3,1422.6 L731.4,1423.8 L732.6,1424.9 L733.7,1426.0 L734.9,1427.1 L736.0,1428.1 L737.1,1429.1 L738.3,1430.1 L739.4,1431.0 L740.5,1431.9 L741.7,1432.7 L742.8,1433.5 L743.9,1434.3 L745.1,1435.0 L746.2,1435.8 L747.3,1436.5 L748.5,1437.1 L749.6,1437.8 L750.8,1438.4 L751.9,1439.0 L753.0,1439.6 L754.2,1440.1 L755.3,1440.7 L756.4,1441.2 L757.6,1441.7 L758.7,1442.2 L759.8,1442.7 L761.0,1443.2 L762.1,1443.7 L763.3,1444.2 L764.4,1444.6 L765.5,1445.1 L766.7,1445.6 L767.8,1446.0 L768.9,1446.5 L770.1,1446.9 L771.2,1447.4 L772.3,1447.8 L773.5,1448.2 L774.6,1448.7 L775.8,1449.1 L776.9,1449.5 L778.0,1450.0 L779.2,1450.4 L780.3,1450.8 L781.4,1451.2 L782.6,1451.6 L783.7,1452.0 L784.8,1452.4 L786.0,1452.8 L787.1,1453.2 L788.2,1453.6 L789.4,1454.0 L790.5,1454.4 L791.7,1454.7 L792.8,1455.1 L793.9,1455.5 L795.1,1455.9 L796.2,1456.2 L797.3,1456.6 L798.5,1457.0 L799.6,1457.3 L800.7,1457.7 L801.9,1458.0 L803.0,1458.4 L804.2,1458.7 L805.3,1459.1 L806.4,1459.4 L807.6,1459.7 L808.7,1460.1 L809.8,1460.4 L811.0,1460.7 L812.1,1461.0 L813.2,1461.3 L814.4,1461.7 L815.5,1462.0 L816.7,1462.3 L817.8,1462.6 L818.9,1462.9 L820.1,1463.2 L821.2,1463.5 L822.3,1463.8 L823.5,1464.1 L824.6,1464.4 L825.7,1464.6 L826.9,1464.9 L828.0,1465.2 L829.2,1465.5 L830.3,1465.7 L831.4,1466.0 L832.6,1466.3 L833.7,1466.5 L834.8,1466.8 L836.0,1467.1 L837.1,1467.3 L838.2,1467.6 L839.4,1467.8 L840.5,1468.1 L841.6,1468.3 L842.8,1468.6 L843.9,1468.8 L845.1,1469.0 L846.2,1469.3 L847.3,1469.5 L848.5,1469.7 L849.6,1469.9 L850.7,1470.2 L851.9,1470.4 L853.0,1470.6 L854.1,1470.8 L855.3,1471.0 L856.4,1471.2 L857.6,1471.4 L858.7,1471.7 L859.8,1471.9 L861.0,1472.1 L862.1,1472.2 L863.2,1472.4 L864.4,1472.6 L865.5,1472.8 L866.6,1473.0 L867.8,1473.2 L868.9,1473.4 L870.0,1473.6 L871.2,1473.7 L872.3,1473.9 L873.5,1474.1 L874.6,1474.3 L875.7,1474.4 L876.9,1474.6 L878.0,1474.7 L879.1,1474.9 L880.3,1475.1 L881.4,1475.2 L882.5,1475.4 L883.7,1475.5 L884.8,1475.7 L886.0,1475.8 L887.1,1476.0 L888.2,1476.1 L889.4,1476.3 L890.5,1476.4 L891.6,1476.5 L892.8,1476.7 L893.9,1476.8 L895.0,1476.9 L896.2,1477.1 L897.3,1477.2 L898.5,1477.3 L899.6,1477.4 L900.7,1477.6 L901.9,1477.7 L903.0,1477.8 L904.1,1477.9 L905.3,1478.0 L906.4,1478.1 L907.5,1478.2 L908.7,1478.3 L909.8,1478.5 L911.0,1478.6 L912.1,1478.7 L913.2,1478.8 L914.4,1478.9 L915.5,1479.0 L916.6,1479.1 L917.8,1479.1 L918.9,1479.2 L920.0,1479.3 L921.2,1479.4 L922.3,1479.5 L923.4,1479.6 L924.6,1479.7 L925.7,1479.7 L926.9,1479.8 L928.0,1479.9 L929.1,1480.0 L930.3,1480.1 L931.4,1480.1 L932.5,1480.2 L933.7,1480.3 L934.8,1480.3 L935.9,1480.4 L937.1,1480.5 L938.2,1480.5 L939.4,1480.6 L940.5,1480.7 L941.6,1480.7 L942.8,1480.8 L943.9,1480.8 L945.0,1480.9 L946.2,1480.9 L947.3,1481.0 L948.4,1481.0 L949.6,1481.1 L950.7,1481.1 L951.8,1481.2 L953.0,1481.2 L954.1,1481.3 L955.3,1481.3 L956.4,1481.4 L957.5,1481.4 L958.7,1481.5 L959.8,1481.5 L960.9,1481.5 L962.1,1481.6 L963.2,1481.6 L964.3,1481.6 L965.5,1481.7 L966.6,1481.7 L967.8,1481.7 L968.9,1481.8 L970.0,1481.8 L971.2,1481.8 L972.3,1481.8 L973.4,1481.9 L974.6,1481.9 L975.7,1481.9 L976.8,1481.9 L978.0,1482.0 L979.1,1482.0 L980.3,1482.0 L981.4,1482.0 L982.5,1482.0 L983.7,1482.1 L984.8,1482.1 L985.9,1482.1 L987.1,1482.1 L988.2,1482.1 L989.3,1482.1 L990.5,1482.2 L991.6,1482.2 L992.8,1482.2 L993.9,1482.2 L995.0,1482.2 L996.2,1482.2 L997.3,1482.2 L998.4,1482.2 L999.6,1482.2 L1000.7,1482.2 L1001.8,1482.2 L1003.0,1482.2 L1004.1,1482.2 L1005.2,1482.3 L1006.4,1482.3 L1007.5,1482.3 L1008.7,1482.3 L1009.8,1482.3 L1010.9,1482.3 L1012.1,1482.3 L1013.2,1482.3 L1014.3,1482.3 L1015.5,1482.3 L1016.6,1482.3 L1017.7,1482.3 L1018.9,1482.3 L1020.0,1482.3 L1021.2,1482.3 L1022.3,1482.3 L1023.4,1482.3 L1024.6,1482.2 L1025.7,1482.2 L1026.8,1482.2 L1028.0,1482.2 L1029.1,1482.2 L1030.2,1482.2 L1031.4,1482.2 L1032.5,1482.2 L1033.7,1482.2 L1034.8,1482.2 L1035.9,1482.2 L1037.1,1482.2 L1038.2,1482.2 L1039.3,1482.2 L1040.5,1482.2 L1041.6,1482.2 L1042.7,1482.2 L1043.9,1482.2 L1045.0,1482.2 L1046.1,1482.1 L1047.3,1482.1 L1048.4,1482.1 L1049.6,1482.1 L1050.7,1482.1 L1051.8,1482.1 L1053.0,1482.1 L1054.1,1482.1 L1055.2,1482.1 L1056.4,1482.1 L1057.5,1482.1 L1058.6,1482.1 L1059.8,1482.1 L1060.9,1482.1 L1062.1,1482.1 L1063.2,1482.1 L1064.3,1482.1 L1065.5,1482.1 L1066.6,1482.1 L1067.7,1482.1 L1068.9,1482.2 L1070.0,1482.2 L1071.1,1482.3 L1072.3,1482.3 L1073.4,1482.3 L1074.5,1482.4 L1075.7,1482.4 L1076.8,1482.5 L1078.0,1482.5 L1079.1,1482.6 L1080.2,1482.6 L1081.4,1482.7 L1082.5,1482.7 L1083.6,1482.8 L1084.8,1482.8 L1085.9,1482.9 L1087.0,1482.9 L1088.2,1483.0 L1089.3,1483.0 L1090.5,1483.1 L1091.6,1483.1 L1092.7,1483.1 L1093.9,1483.0 L1095.0,1483.0 L1096.1,1483.0 L1097.3,1483.0 L1098.4,1483.0 L1099.5,1482.9 L1100.7,1482.9 L1101.8,1482.8 L1103.0,1482.6 L1104.1,1482.4 L1105.2,1482.2 L1106.4,1482.0 L1107.5,1481.8 L1108.6,1481.6 L1109.8,1481.5 L1110.9,1481.5 L1112.0,1481.5 L1113.2,1481.4 L1114.3,1481.4 L1115.5,1481.4 L1116.6,1481.4 L1117.7,1481.4 L1118.9,1481.4 L1120.0,1481.4 L1121.1,1481.4 L1122.3,1481.4 L1123.4,1481.4 L1124.5,1481.4 L1125.7,1481.5 L1126.8,1481.5 L1127.9,1481.6 L1129.1,1481.7 L1130.2,1481.9 L1131.4,1482.2 L1132.5,1482.5 L1133.6,1482.8 L1134.8,1482.9 L1135.9,1482.9 L1137.0,1482.8 L1138.2,1482.6 L1139.3,1482.4 L1140.4,1482.3 L1141.6,1482.1 L1142.7,1482.1 L1143.9,1482.1 L1145.0,1482.1 L1146.1,1482.2 L1147.3,1482.2 L1148.4,1482.2 L1149.5,1482.3 L1150.7,1482.3 L1151.8,1482.4 L1152.9,1482.5 L1154.1,1482.5 L1155.2,1482.6 L1156.3,1482.6 L1157.5,1482.7 L1158.6,1482.8 L1159.8,1482.9 L1160.9,1483.0 L1162.0,1483.1 L1163.2,1483.2 L1164.3,1483.3 L1165.4,1483.4 L1166.6,1483.5 L1167.7,1483.6 L1168.8,1483.6 L1170.0,1483.7 L1171.1,1483.8 L1172.3,1483.9 L1173.4,1484.0 L1174.5,1484.0 L1175.7,1484.1 L1176.8,1484.2" stroke="#008000"/>
<path d="M154.3,1412.7 L155.4,1412.7 L156.6,1412.7 L157.7,1412.7 L158.8,1412.7 L160.0,1412.7 L161.1,1412.7 L162.3,1412.7 L163.4,1412.7 L164.5,1412.7 L165.7,1412.8 L166.8,1412.8 L167.9,1412.8 L169.1,1412.9 L170.2,1412.9 L171.3,1413.0 L172.5,1413.0 L173.6,1413.1 L174.8,1413.1 L175.9,1413.2 L177.0,1413.2 L178.2,1413.3 L179.3,1413.4 L180.4,1413.4 L181.6,1413.5 L182.7,1413.6 L183.8,1413.6 L185.0,1413.7 L186.1,1413.8 L187.2,1413.9 L188.4,1414.0 L189.5,1414.1 L190.7,1414.2 L191.8,1414.3 L192.9,1414.4 L194.1,1414.4 L195.2,1414.5 L196.3,1414.6 L197.5,1414.8 L198.6,1414.9 L199.7,1415.0 L200.9,1415.1 L202.0,1415.2 L203.2,1415.3 L204.3,1415.4 L205.4,1415.5 L206.6,1415.6 L207.7,1415.7 L208.8,1415.9 L210.0,1416.0 L211.1,1416.1 L212.2,1416.2 L213.4,1416.3 L214.5,1416.5 L215.7,1416.6 L216.8,1416.7 L217.9,1416.8 L219.1,1416.9 L220.2,1417.1 L221.3,1417.2 L222.5,1417.3 L223.6,1417.4 L224.7,1417.6 L225.9,1417.7 L227.0,1417.8 L228.1,1417.9 L229.3,1418.1 L230.4,1418.2 L231.6,1418.3 L232.7,1418.4 L233.8,1418.5 L235.0,1418.7 L236.1,1418.8 L237.2,1418.9 L238.4,1419.0 L239.5,1419.1 L240.6,1419.3 L241.8,1419.4 L242.9,1419.5 L244.1,1419.6 L245.2,1419.7 L246.3,1419.8 L247.5,1419.9 L248.6,1420.0 L249.7,1420.1 L250.9,1420.3 L252.0,1420.4 L253.1,1420.5 L254.3,1420.6 L255.4,1420.7 L256.6,1420.8 L257.7,1420.8 L258.8,1420.9 L260.0,1421.0 L261.1,1421.1 L262.2,1421.2 L263.4,1421.3 L264.5,1421.4 L265.6,1421.4 L266.8,1421.5 L267.9,1421.6 L269.0,1421.7 L270.2,1421.7 L271.3,1421.8 L272.5,1421.9 L273.6,1421.9 L274.7,1422.0 L275.9,1422.0 L277.0,1422.1 L278.1,1422.1 L279.3,1422.2 L280.4,1422.2 L281.5,1422.3 L282.7,1422.3 L283.8,1422.3 L285.0,1422.3 L286.1,1422.4 L287.2,1422.4 L288.4,1422.4 L289.5,1422.4 L290.6,1422.4 L291.8,1422.4 L292.9,1422.4 L294.0,1422.4 L295.2,1422.4 L296.3,1422.4 L297.5,1422.4 L298.6,1422.3 L299.7,1422.3 L300.9,1422.3 L302.0,1422.2 L303.1,1422.2 L304.3,1422.1 L305.4,1422.1 L306.5,1422.0 L307.7,1422.0 L308.8,1421.9 L309.9,1421.8 L311.1,1421.8 L312.2,1421.7 L313.4,1421.6 L314.5,1421.5 L315.6,1421.4 L316.8,1421.3 L317.9,1421.2 L319.0,1421.1 L320.2,1420.9 L321.3,1420.8 L322.4,1420.7 L323.6,1420.5 L324.7,1420.4 L325.9,1420.2 L327.0,1420.1 L328.1,1419.9 L329.3,1419.7 L330.4,1419.5 L331.5,1419.4 L332.7,1419.2 L333.8,1419.0 L334.9,1418.8 L336.1,1418.5 L337.2,1418.3 L338.4,1418.1 L339.5,1417.9 L340.6,1417.6 L341.8,1417.4 L342.9,1417.1 L344.0,1416.9 L345.2,1416.6 L346.3,1416.3 L347.4,1416.0 L348.6,1415.7 L349.7,1415.4 L350.8,1415.1 L352.0,1414.8 L353.1,1414.5 L354.3,1414.1 L355.4,1413.8 L356.5,1413.4 L357.7,1413.0 L358.8,1412.7 L359.9,1412.3 L361.1,1411.9 L362.2,1411.5 L363.3,1411.1 L364.5,1410.6 L365.6,1410.2 L366.8,1409.7 L367.9,1409.3 L369.0,1408.8 L370.2,1408.3 L371.3,1407.8 L372.4,1407.3 L373.6,1406.8 L374.7,1406.3 L375.8,1405.8 L377.0,1405.2 L378.1,1404.6 L379.2,1404.1 L380.4,1403.5 L381.5,1402.9 L382.7,1402.4 L383.8,1401.8 L384.9,1401.2 L386.1,1400.6 L387.2,1400.0 L388.3,1399.5 L389.5,1398.9 L390.6,1398.3 L391.7,1397.7 L392.9,1397.2 L394.0,1396.6 L395.2,1396.1 L396.3,1395.6 L397.4,1395.0 L398.6,1394.5 L399.7,1394.1 L400.8,1393.6 L402.0,1393.1 L403.1,1392.7 L404.2,1392.2 L405.4,1391.8 L406.5,1391.4 L407.7,1391.0 L408.8,1390.6 L409.9,1390.3 L411.1,1389.9 L412.2,1389.6 L413.3,1389.3 L414.5,1388.9 L415.6,1388.6 L416.7,1388.4 L417.9,1388.1 L419.0,1387.8 L420.2,1387.6 L421.3,1387.3 L422.4,1387.1 L423.6,1386.9 L424.7,1386.7 L425.8,1386.5 L427.0,1386.3 L428.1,1386.1 L429.2,1386.0 L430.4,1385.8 L431.5,1385.7 L432.6,1385.6 L433.8,1385.5 L434.9,1385.4 L436.1,1385.3 L437.2,1385.2 L438.3,1385.1 L439.5,1385.1 L440.6,1385.0 L441.7,1385.0 L442.9,1384.9 L444.0,1384.9 L445.1,1384.9 L446.3,1384.8 L447.4,1384.8 L448.6,1384.8 L449.7,1384.8 L450.8,1384.8 L452.0,1384.7 L453.1,1384.7 L454.2,1384.7 L455.4,1384.6 L456.5,1384.6 L457.6,1384.5 L458.8,1384.4 L459.9,1384.4 L461.1,1384.3 L462.2,1384.2 L463.3,1384.0 L464.5,1383.9 L465.6,1383.7 L466.7,1383.5 L467.9,1383.3 L469.0,1383.1 L470.1,1382.9 L471.3,1382.7 L472.4,1382.4 L473.5,1382.1 L474.7,1381.8 L475.8,1381.5 L477.0,1381.2 L478.1,1380.8 L479.2,1380.5 L480.4,1380.1 L481.5,1379.7 L482.6,1379.3 L483.8,1378.9 L484.9,1378.4 L486.0,1378.0 L487.2,1377.5 L488.3,1377.0 L489.5,1376.5 L490.6,1376.0 L491.7,1375.4 L492.9,1374.9 L494.0,1374.3 L495.1,1373.7 L496.3,1373.1 L497.4,1372.5 L498.5,1371.8 L499.7,1371.2 L500.8,1370.5 L501.9,1369.9 L503.1,1369.2 L504.2,1368.4 L505.4,1367.7 L506.5,1367.0 L507.6,1366.2 L508.8,1365.5 L509.9,1364.7 L511.0,1363.9 L512.2,1363.1 L513.3,1362.2 L514.4,1361.4 L515.6,1360.5 L516.7,1359.6 L517.9,1358.7 L519.0,1357.8 L520.1,1356.9 L521.3,1356.0 L522.4,1355.0 L523.5,1354.1 L524.7,1353.1 L525.8,1352.1 L526.9,1351.1 L528.1,1350.1 L529.2,1349.1 L530.4,1348.1 L531.5,1347.1 L532.6,1346.0 L533.8,1345.0 L534.9,1344.0 L536.0,1343.0 L537.2,1342.0 L538.3,1341.0 L539.4,1340.1 L540.6,1339.1 L541.7,1338.2 L542.9,1337.3 L544.0,1336.4 L545.1,1335.5 L546.3,1334.7 L547.4,1333.8 L548.5,1333.1 L549.7,1332.3 L550.8,1331.6 L551.9,1330.9 L553.1,1330.3 L554.2,1329.7 L555.3,1329.2 L556.5,1328.7 L557.6,1328.2 L558.8,1327.8 L559.9,1327.5 L561.0,1327.2 L562.2,1326.9 L563.3,1326.8 L564.4,1326.6 L565.6,1326.6 L566.7,1326.6 L567.8,1326.7 L569.0,1326.8 L570.1,1327.1 L571.3,1327.3 L572.4,1327.7 L573.5,1328.1 L574.7,1328.5 L575.8,1329.0 L576.9,1329.6 L578.1,1330.2 L579.2,1330.9 L580.3,1331.7 L581.5,1332.4 L582.6,1333.3 L583.8,1334.2 L584.9,1335.1 L586.0,1336.1 L587.2,1337.2 L588.3,1338.3 L589.4,1339.4 L590.6,1340.6 L591.7,1341.9 L592.8,1343.2 L594.0,1344.5 L595.1,1345.9 L596.2,1347.3 L597.4,1348.7 L598.5,1350.2 L599.7,1351.8 L600.8,1353.4 L601.9,1355.0 L603.1,1356.6 L604.2,1358.3 L605.3,1360.0 L606.5,1361.7 L607.6,1363.4 L608.7,1365.2 L609.9,1367.0 L611.0,1368.8 L612.2,1370.6 L613.3,1372.4 L614.4,1374.2 L615.6,1376.1 L616.7,1377.9 L617.8,1379.7 L619.0,1381.6 L620.1,1383.4 L621.2,1385.3 L622.4,1387.1 L623.5,1388.9 L624.7,1390.7 L625.8,1392.5 L626.9,1394.3 L628.1,1396.0 L629.2,1397.8 L630.3,1399.5 L631.5,1401.2 L632.6,1402.8 L633.7,1404.4 L634.9,1406.0 L636.0,1407.6 L637.1,1409.1 L638.3,1410.6 L639.4,1412.0 L640.6,1413.4 L641.7,1414.8 L642.8,1416.2 L644.0,1417.5 L645.1,1418.7 L646.2,1420.0 L647.4,1421.2 L648.5,1422.4 L649.6,1423.5 L650.8,1424.7 L651.9,1425.8 L653.1,1426.8 L654.2,1427.9 L655.3,1428.9 L656.5,1429.9 L657.6,1430.9 L658.7,1431.8 L659.9,1432.7 L661.0,1433.6 L662.1,1434.5 L663.3,1435.4 L664.4,1436.2 L665.5,1437.0 L666.7,1437.9 L667.8,1438.6 L669.0,1439.4 L670.1,1440.2 L671.2,1440.9 L672.4,1441.6 L673.5,1442.3 L674.6,1443.0 L675.8,1443.7 L676.9,1444.4 L678.0,1445.1 L679.2,1445.7 L680.3,1446.3 L681.5,1447.0 L682.6,1447.6 L683.7,1448.2 L684.9,1448.8 L686.0,1449.4 L687.1,1450.0 L688.3,1450.6 L689.4,1451.2 L690.5,1451.8 L691.7,1452.3 L692.8,1452.9 L694.0,1453.4 L695.1,1453.9 L696.2,1454.5 L697.4,1455.0 L698.5,1455.5 L699.6,1456.0 L700.8,1456.5 L701.9,1457.0 L703.0,1457.5 L704.2,1457.9 L705.3,1458.4 L706.5,1458.9 L707.6,1459.3 L708.7,1459.7 L709.9,1460.2 L711.0,1460.6 L712.1,1461.0 L713.3,1461.5 L714.4,1461.9 L715.5,1462.3 L716.7,1462.7 L717.8,1463.0 L718.9,1463.4 L720.1,1463.8 L721.2,1464.2 L722.4,1464.5 L723.5,1464.9 L724.6,1465.2 L725.8,1465.6 L726.9,1465.9 L728.0,1466.2 L729.2,1466.6 L730.3,1466.9 L731.4,1467.2 L732.6,1467.5 L733.7,1467.8 L734.9,1468.1 L736.0,1468.4 L737.1,1468.7 L738.3,1469.0 L739.4,1469.2 L740.5,1469.5 L741.7,1469.8 L742.8,1470.0 L743.9,1470.3 L745.1,1470.5 L746.2,1470.8 L747.3,1471.0 L748.5,1471.3 L749.6,1471.5 L750.8,1471.7 L751.9,1471.9 L753.0,1472.1 L754.2,1472.4 L755.3,1472.6 L756.4,1472.8 L757.6,1473.0 L758.7,1473.2 L759.8,1473.3 L761.0,1473.5 L762.1,1473.7 L763.3,1473.9 L764.4,1474.1 L765.5,1474.2 L766.7,1474.4 L767.8,1474.5 L768.9,1474.7 L770.1,1474.9 L771.2,1475.0 L772.3,1475.2 L773.5,1475.3 L774.6,1475.4 L775.8,1475.6 L776.9,1475.7 L778.0,1475.8 L779.2,1476.0 L780.3,1476.1 L781.4,1476.2 L782.6,1476.3 L783.7,1476.5 L784.8,1476.6 L786.0,1476.7 L787.1,1476.8 L788.2,1476.9 L789.4,1477.0 L790.5,1477.1 L791.7,1477.2 L792.8,1477.3 L793.9,1477.4 L795.1,1477.5 L796.2,1477.6 L797.3,1477.7 L798.5,1477.7 L799.6,1477.8 L800.7,1477.9 L801.9,1478.0 L803.0,1478.1 L804.2,1478.1 L805.3,1478.2 L806.4,1478.3 L807.6,1478.4 L808.7,1478.4 L809.8,1478.5 L811.0,1478.6 L812.1,1478.7 L813.2,1478.7 L814.4,1478.8 L815.5,1478.9 L816.7,1478.9 L817.8,1479.0 L818.9,1479.0 L820.1,1479.1 L821.2,1479.2 L822.3,1479.2 L823.5,1479.3 L824.6,1479.3 L825.7,1479.4 L826.9,1479.5 L828.0,1479.5 L829.2,1479.6 L830.3,1479.6 L831.4,1479.7 L832.6,1479.8 L833.7,1479.8 L834.8,1479.9 L836.0,1479.9 L837.1,1480.0 L838.2,1480.0 L839.4,1480.1 L840.5,1480.2 L841.6,1480.2 L842.8,1480.3 L843.9,1480.3 L845.1,1480.4 L846.2,1480.4 L847.3,1480.5 L848.5,1480.5 L849.6,1480.6 L850.7,1480.6 L851.9,1480.7 L853.0,1480.8 L854.1,1480.8 L855.3,1480.9 L856.4,1480.9 L857.6,1481.0 L858.7,1481.0 L859.8,1481.1 L861.0,1481.1 L862.1,1481.2 L863.2,1481.2 L864.4,1481.3 L865.5,1481.3 L866.6,1481.4 L867.8,1481.4 L868.9,1481.5 L870.0,1481.5 L871.2,1481.6 L872.3,1481.6 L873.5,1481.6 L874.6,1481.7 L875.7,1481.7 L876.9,1481.8 L878.0,1481.8 L879.1,1481.9 L880.3,1481.9 L881.4,1482.0 L882.5,1482.0 L883.7,1482.1 L884.8,1482.1 L886.0,1482.1 L887.1,1482.2 L888.2,1482.2 L889.4,1482.3 L890.5,1482.3 L891.6,1482.4 L892.8,1482.4 L893.9,1482.4 L895.0,1482.5 L896.2,1482.5 L897.3,1482.6 L898.5,1482.6 L899.6,1482.6 L900.7,1482.7 L901.9,1482.7 L903.0,1482.8 L904.1,1482.8 L905.3,1482.8 L906.4,1482.9 L907.5,1482.9 L908.7,1483.0 L909.8,1483.0 L911.0,1483.0 L912.1,1483.1 L913.2,1483.1 L914.4,1483.2 L915.5,1483.2 L916.6,1483.2 L917.8,1483.3 L918.9,1483.3 L920.0,1483.3 L921.2,1483.4 L922.3,1483.4 L923.4,1483.4 L924.6,1483.5 L925.7,1483.5 L926.9,1483.5 L928.0,1483.6 L929.1,1483.6 L930.3,1483.6 L931.4,1483.7 L932.5,1483.7 L933.7,1483.7 L934.8,1483.8 L935.9,1483.8 L937.1,1483.8 L938.2,1483.9 L939.4,1483.9 L940.5,1483.9 L941.6,1484.0 L942.8,1484.0 L943.9,1484.0 L945.0,1484.1 L946.2,1484.1 L947.3,1484.1 L948.4,1484.2 L949.6,1484.2 L950.7,1484.2 L951.8,1484.2 L953.0,1484.3 L954.1,1484.3 L955.3,1484.3 L956.4,1484.4 L957.5,1484.4 L958.7,1484.4 L959.8,1484.4 L960.9,1484.5 L962.1,1484.5 L963.2,1484.5 L964.3,1484.5 L965.5,1484.6 L966.6,1484.6 L967.8,1484.6 L968.9,1484.7 L970.0,1484.7 L971.2,1484.7 L972.3,1484.7 L973.4,1484.8 L974.6,1484.8 L975.7,1484.8 L976.8,1484.8 L978.0,1484.9 L979.1,1484.9 L980.3,1484.9 L981.4,1484.9 L982.5,1484.9 L983.7,1485.0 L984.8,1485.0 L985.9,1485.0 L987.1,1485.0 L988.2,1485.1 L989.3,1485.1 L990.5,1485.1 L991.6,1485.1 L992.8,1485.1 L993.9,1485.2 L995.0,1485.2 L996.2,1485.2 L997.3,1485.2 L998.4,1485.3 L999.6,1485.3 L1000.7,1485.3 L1001.8,1485.3 L1003.0,1485.3 L1004.1,1485.4 L1005.2,1485.4 L1006.4,1485.4 L1007.5,1485.4 L1008.7,1485.4 L1009.8,1485.4 L1010.9,1485.5 L1012.1,1485.5 L1013.2,1485.5 L1014.3,1485.5 L1015.5,1485.5 L1016.6,1485.6 L1017.7,1485.6 L1018.9,1485.6 L1020.0,1485.6 L1021.2,1485.6 L1022.3,1485.6 L1023.4,1485.7 L1024.6,1485.7 L1025.7,1485.7 L1026.8,1485.7 L1028.0,1485.7 L1029.1,1485.7 L1030.2,1485.8 L1031.4,1485.8 L1032.5,1485.8 L1033.7,1485.8 L1034.8,1485.8 L1035.9,1485.8 L1037.1,1485.8 L1038.2,1485.9 L1039.3,1485.9 L1040.5,1485.9 L1041.6,1485.9 L1042.7,1485.9 L1043.9,1485.9 L1045.0,1485.9 L1046.1,1486.0 L1047.3,1486.0 L1048.4,1486.0 L1049.6,1486.0 L1050.7,1486.0 L1051.8,1486.0 L1053.0,1486.0 L1054.1,1486.1 L1055.2,1486.1 L1056.4,1486.1 L1057.5,1486.1 L1058.6,1486.1 L1059.8,1486.1 L1060.9,1486.1 L1062.1,1486.1 L1063.2,1486.1 L1064.3,1486.2 L1065.5,1486.3 L1066.6,1486.3 L1067.7,1486.4 L1068.9,1486.4 L1070.0,1486.5 L1071.1,1486.6 L1072.3,1486.6 L1073.4,1486.7 L1074.5,1486.7 L1075.7,1486.8 L1076.8,1486.9 L1078.0,1486.9 L1079.1,1487.0 L1080.2,1487.0 L1081.4,1487.1 L1082.5,1487.1 L1083.6,1487.2 L1084.8,1487.3 L1085.9,1487.3 L1087.0,1487.4 L1088.2,1487.4 L1089.3,1487.5 L1090.5,1487.5 L1091.6,1487.6 L1092.7,1487.6 L1093.9,1487.6 L1095.0,1487.6 L1096.1,1487.6 L1097.3,1487.6 L1098.4,1487.6 L1099.5,1487.6 L1100.7,1487.6 L1101.8,1487.6 L1103.0,1487.6 L1104.1,1487.6 L1105.2,1487.5 L1106.4,1487.5 L1107.5,1487.2 L1108.6,1486.6 L1109.8,1485.8 L1110.9,1484.9 L1112.0,1484.3 L1113.2,1484.0 L1114.3,1483.9 L1115.5,1483.8 L1116.6,1483.8 L1117.7,1483.7 L1118.9,1483.7 L1120.0,1483.7 L1121.1,1483.7 L1122.3,1483.6 L1123.4,1483.7 L1124.5,1483.8 L1125.7,1483.9 L1126.8,1484.0 L1127.9,1484.2 L1129.1,1484.4 L1130.2,1484.7 L1131.4,1485.0 L1132.5,1485.4 L1133.6,1485.7 L1134.8,1485.9 L1135.9,1485.8 L1137.0,1485.7 L1138.2,1485.5 L1139.3,1485.3 L1140.4,1485.1 L1141.6,1485.0 L1142.7,1485.0 L1143.9,1485.1 L1145.0,1485.2 L1146.1,1485.4 L1147.3,1485.5 L1148.4,1485.7 L1149.5,1485.9 L1150.7,1486.1 L1151.8,1486.2 L1152.9,1486.3 L1154.1,1486.4 L1155.2,1486.5 L1156.3,1486.6 L1157.5,1486.6 L1158.6,1486.7 L1159.8,1486.8 L1160.9,1486.8 L1162.0,1486.9 L1163.2,1487.0 L1164.3,1487.0 L1165.4,1487.1 L1166.6,1487.2 L1167.7,1487.3 L1168.8,1487.4 L1170.0,1487.5 L1171.1,1487.6 L1172.3,1487.7 L1173.4,1487.8 L1174.5,1487.9 L1175.7,1488.1 L1176.8,1488.2" stroke="#000080"/>
</g>
<line x1="209.5" y1="818.2" x2="306.5" y2="818.2" stroke="#000000" stroke-width="5.3" stroke-linecap="round"/>
<text x="317.70" y="832.70" font-family="Liberation Sans" font-size="40.00" >a</text>
<line x1="209.5" y1="871.7" x2="306.5" y2="871.7" stroke="#ff0000" stroke-width="5.3" stroke-linecap="round"/>
<text x="316.50" y="886.20" font-family="Liberation Sans" font-size="40.00" >b</text>
<line x1="209.5" y1="925.2" x2="306.5" y2="925.2" stroke="#0000ff" stroke-width="5.3" stroke-linecap="round"/>
<text x="317.70" y="939.70" font-family="Liberation Sans" font-size="40.00" >c</text>
<line x1="209.5" y1="978.7" x2="306.5" y2="978.7" stroke="#ff00ff" stroke-width="5.3" stroke-linecap="round"/>
<text x="317.70" y="993.20" font-family="Liberation Sans" font-size="40.00" >d</text>
<line x1="209.5" y1="1032.2" x2="306.5" y2="1032.2" stroke="#008000" stroke-width="5.3" stroke-linecap="round"/>
<text x="317.70" y="1046.70" font-family="Liberation Sans" font-size="40.00" >e</text>
<line x1="209.5" y1="1085.7" x2="306.5" y2="1085.7" stroke="#000080" stroke-width="5.3" stroke-linecap="round"/>
<text x="318.60" y="1100.20" font-family="Liberation Sans" font-size="40.00" >f</text>
<rect x="154.3" y="754.6" width="1022.5" height="754.1" fill="none" stroke="#000" stroke-width="5.8"/>
<line x1="154.3" y1="1508.70" x2="172.00" y2="1508.70" stroke="#000" stroke-width="4.6" stroke-linecap="round"/>
<line x1="154.3" y1="1424.91" x2="164.60" y2="1424.91" stroke="#000" stroke-width="4.6" stroke-linecap="round"/>
<line x1="154.3" y1="1341.12" x2="172.00" y2="1341.12" stroke="#000" stroke-width="4.6" stroke-linecap="round"/>
<line x1="154.3" y1="1257.33" x2="164.60" y2="1257.33" stroke="#000" stroke-width="4.6" stroke-linecap="round"/>
<line x1="154.3" y1="1173.54" x2="172.00" y2="1173.54" stroke="#000" stroke-width="4.6" stroke-linecap="round"/>
<line x1="154.3" y1="1089.76" x2="164.60" y2="1089.76" stroke="#000" stroke-width="4.6" stroke-linecap="round"/>
<line x1="154.3" y1="1005.97" x2="172.00" y2="1005.97" stroke="#000" stroke-width="4.6" stroke-linecap="round"/>
<line x1="154.3" y1="922.18" x2="164.60" y2="922.18" stroke="#000" stroke-width="4.6" stroke-linecap="round"/>
<line x1="154.3" y1="838.39" x2="172.00" y2="838.39" stroke="#000" stroke-width="4.6" stroke-linecap="round"/>
<text x="80.79" y="1519.70" font-family="Liberation Sans" font-size="40.60" >0.0</text>
<text x="80.79" y="1352.12" font-family="Liberation Sans" font-size="40.60" >0.4</text>
<text x="80.79" y="1184.54" font-family="Liberation Sans" font-size="40.60" >0.8</text>
<text x="80.79" y="1016.97" font-family="Liberation Sans" font-size="40.60" >1.2</text>
<text x="80.79" y="849.39" font-family="Liberation Sans" font-size="40.60" >1.6</text>
<line x1="267.91" y1="1508.7" x2="267.91" y2="1498.70" stroke="#000" stroke-width="4.6" stroke-linecap="round"/>
<line x1="381.52" y1="1508.7" x2="381.52" y2="1491.10" stroke="#000" stroke-width="4.6" stroke-linecap="round"/>
<line x1="495.13" y1="1508.7" x2="495.13" y2="1498.70" stroke="#000" stroke-width="4.6" stroke-linecap="round"/>
<line x1="608.74" y1="1508.7" x2="608.74" y2="1491.10" stroke="#000" stroke-width="4.6" stroke-linecap="round"/>
<line x1="722.36" y1="1508.7" x2="722.36" y2="1498.70" stroke="#000" stroke-width="4.6" stroke-linecap="round"/>
<line x1="835.97" y1="1508.7" x2="835.97" y2="1491.10" stroke="#000" stroke-width="4.6" stroke-linecap="round"/>
<line x1="949.58" y1="1508.7" x2="949.58" y2="1498.70" stroke="#000" stroke-width="4.6" stroke-linecap="round"/>
<line x1="1063.19" y1="1508.7" x2="1063.19" y2="1491.10" stroke="#000" stroke-width="4.6" stroke-linecap="round"/>
<text x="120.97" y="1556.60" font-family="Liberation Sans" font-size="40.40" >400</text>
<text x="347.79" y="1556.60" font-family="Liberation Sans" font-size="40.40" >500</text>
<text x="575.01" y="1556.60" font-family="Liberation Sans" font-size="40.40" >600</text>
<text x="802.23" y="1556.60" font-family="Liberation Sans" font-size="40.40" >700</text>
<text x="1029.45" y="1556.60" font-family="Liberation Sans" font-size="40.40" >800</text>
<text transform="translate(486.83,1627.90) scale(1,1.0200)" font-family="Liberation Sans" font-size="47.30" >Wavelength (nm)</text>
<text transform="translate(55,1336.6) rotate(-90)" font-family="Liberation Sans" font-size="47.3">Absorbance (a.u.)</text>
<text transform="translate(1212.20,820.50) scale(1,1.0300)" font-family="Liberation Sans" font-size="94.00" >C</text>
<rect x="1538.05" y="1419.01" width="108.5" height="89.49" fill="url(#bar)" stroke="#000" stroke-width="5" stroke-linejoin="round"/>
<rect x="1693.65" y="1507.56" width="108.5" height="0.94" fill="url(#bar)" stroke="#000" stroke-width="5" stroke-linejoin="round"/>
<rect x="1849.75" y="1466.11" width="108.5" height="42.39" fill="url(#bar)" stroke="#000" stroke-width="5" stroke-linejoin="round"/>
<rect x="2005.55" y="994.64" width="108.5" height="513.86" fill="url(#bar)" stroke="#000" stroke-width="5" stroke-linejoin="round"/>
<rect x="2161.55" y="858.52" width="108.5" height="649.98" fill="url(#bar)" stroke="#000" stroke-width="5" stroke-linejoin="round"/>
<rect x="1358.9" y="754.9" width="935.4000000000001" height="753.6" fill="none" stroke="#000" stroke-width="5.6"/>
<line x1="1358.9" y1="1508.50" x2="1375.20" y2="1508.50" stroke="#000" stroke-width="4.6" stroke-linecap="round"/>
<line x1="1358.9" y1="1414.30" x2="1367.70" y2="1414.30" stroke="#000" stroke-width="4.6" stroke-linecap="round"/>
<line x1="1358.9" y1="1320.10" x2="1375.20" y2="1320.10" stroke="#000" stroke-width="4.6" stroke-linecap="round"/>
<line x1="1358.9" y1="1225.90" x2="1367.70" y2="1225.90" stroke="#000" stroke-width="4.6" stroke-linecap="round"/>
<line x1="1358.9" y1="1131.70" x2="1375.20" y2="1131.70" stroke="#000" stroke-width="4.6" stroke-linecap="round"/>
<line x1="1358.9" y1="1037.50" x2="1367.70" y2="1037.50" stroke="#000" stroke-width="4.6" stroke-linecap="round"/>
<line x1="1358.9" y1="943.30" x2="1375.20" y2="943.30" stroke="#000" stroke-width="4.6" stroke-linecap="round"/>
<line x1="1358.9" y1="849.10" x2="1367.70" y2="849.10" stroke="#000" stroke-width="4.6" stroke-linecap="round"/>
<text transform="translate(1318.40,1521.70) scale(1,1.0500)" font-family="Liberation Sans" font-size="42.30" >0</text>
<text transform="translate(1295.14,1333.30) scale(1,1.0500)" font-family="Liberation Sans" font-size="42.30" >40</text>
<text transform="translate(1295.14,1144.90) scale(1,1.0500)" font-family="Liberation Sans" font-size="42.30" >80</text>
<text transform="translate(1271.45,956.50) scale(1,1.0500)" font-family="Liberation Sans" font-size="42.30" >120</text>
<text transform="translate(1271.45,768.10) scale(1,1.0500)" font-family="Liberation Sans" font-size="42.30" >160</text>
<line x1="1436.40" y1="1508.5" x2="1436.40" y2="1492.50" stroke="#000" stroke-width="4.6" stroke-linecap="round"/>
<text x="1421.70" y="1563.80" font-family="Liberation Sans" font-size="49.00" >a</text>
<line x1="1592.30" y1="1508.5" x2="1592.30" y2="1492.50" stroke="#000" stroke-width="4.6" stroke-linecap="round"/>
<text x="1578.09" y="1563.80" font-family="Liberation Sans" font-size="49.00" >b</text>
<line x1="1747.90" y1="1508.5" x2="1747.90" y2="1492.50" stroke="#000" stroke-width="4.6" stroke-linecap="round"/>
<text x="1735.41" y="1563.80" font-family="Liberation Sans" font-size="49.00" >c</text>
<line x1="1904.00" y1="1508.5" x2="1904.00" y2="1492.50" stroke="#000" stroke-width="4.6" stroke-linecap="round"/>
<text x="1891.02" y="1563.80" font-family="Liberation Sans" font-size="49.00" >d</text>
<line x1="2059.80" y1="1508.5" x2="2059.80" y2="1492.50" stroke="#000" stroke-width="4.6" stroke-linecap="round"/>
<text x="2046.33" y="1563.80" font-family="Liberation Sans" font-size="49.00" >e</text>
<line x1="2215.80" y1="1508.5" x2="2215.80" y2="1492.50" stroke="#000" stroke-width="4.6" stroke-linecap="round"/>
<text x="2208.70" y="1563.80" font-family="Liberation Sans" font-size="49.00" >f</text>
<text transform="translate(1252.9,1209.7) rotate(-90)" font-size="48"><tspan font-family="Liberation Serif">Δλ</tspan><tspan font-family="Liberation Sans" letter-spacing="1.4">(nm)</tspan></text></svg>
</body></html>
